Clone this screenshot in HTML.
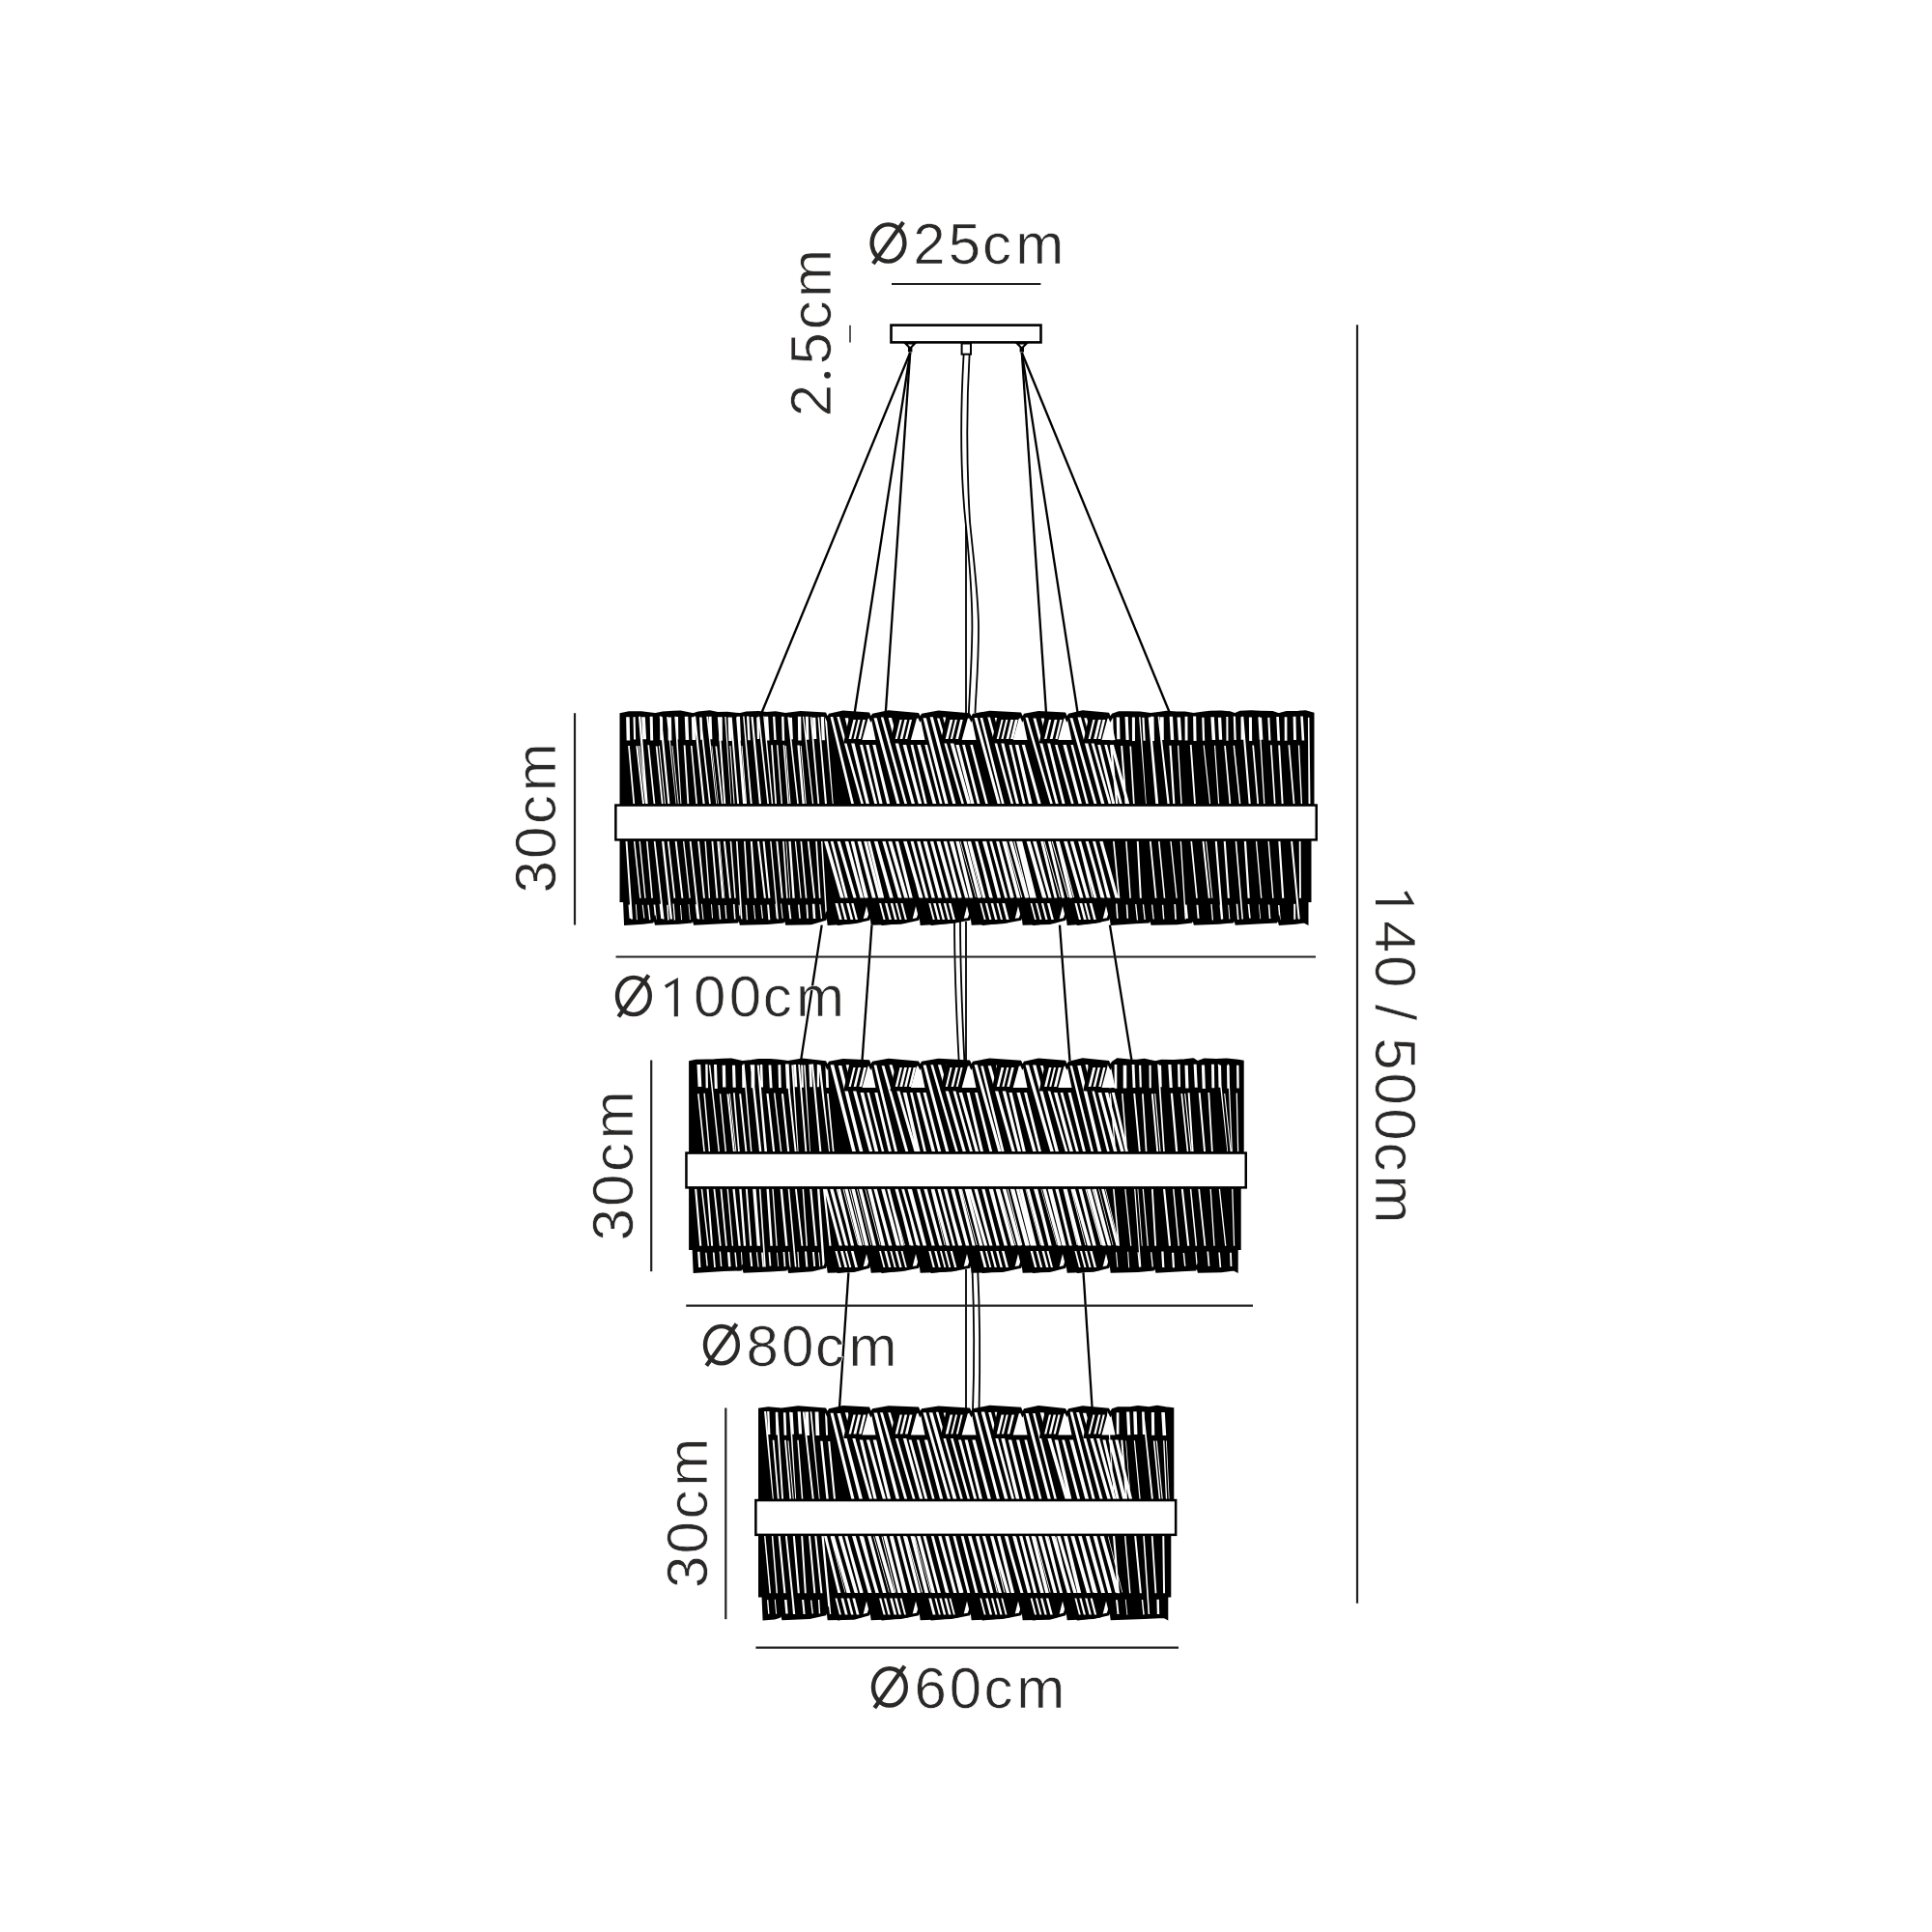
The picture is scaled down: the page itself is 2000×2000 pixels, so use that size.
<!DOCTYPE html>
<html><head><meta charset="utf-8"><style>
html,body{margin:0;padding:0;background:#fff;width:2000px;height:2000px;overflow:hidden}
svg{display:block}
text{font-family:"Liberation Sans",sans-serif;font-size:60px;fill:#2b2928;stroke:#fff;stroke-width:0.7px}
</style></head><body>
<svg width="2000" height="2000" viewBox="0 0 2000 2000">
<rect x="922.5" y="336.6" width="155" height="17.8" fill="#fff" stroke="#000" stroke-width="2.6"/>
<path d="M937.2 355.5 L947.2 355.5 L942.2 360.5 Z" fill="#fff" stroke="#000" stroke-width="2"/>
<rect x="940" y="359.5" width="4.4" height="5" fill="#000"/>
<path d="M1052.8 355.5 L1062.8 355.5 L1057.8 360.5 Z" fill="#fff" stroke="#000" stroke-width="2"/>
<rect x="1055.6" y="359.5" width="4.4" height="5" fill="#000"/>
<rect x="995.6" y="355.5" width="9.4" height="11.2" fill="#fff" stroke="#000" stroke-width="2"/>
<line x1="942.2" y1="365" x2="788.5" y2="737.8" stroke="#000" stroke-width="2.3"/>
<line x1="942.2" y1="365" x2="884.7" y2="737.8" stroke="#000" stroke-width="2.3"/>
<line x1="942.2" y1="365" x2="916.8" y2="737.8" stroke="#000" stroke-width="2.3"/>
<line x1="1057.8" y1="365" x2="1083" y2="737.8" stroke="#000" stroke-width="2.3"/>
<line x1="1057.8" y1="365" x2="1115.6" y2="737.8" stroke="#000" stroke-width="2.3"/>
<line x1="1057.8" y1="365" x2="1210.8" y2="737.8" stroke="#000" stroke-width="2.3"/>
<line x1="850.7" y1="957.6" x2="829" y2="1098.4" stroke="#000" stroke-width="2.3"/>
<line x1="902.5" y1="957.6" x2="892.5" y2="1098.4" stroke="#000" stroke-width="2.3"/>
<line x1="1097" y1="957.6" x2="1107.5" y2="1098.4" stroke="#000" stroke-width="2.3"/>
<line x1="1148.9" y1="957.6" x2="1171.6" y2="1098.4" stroke="#000" stroke-width="2.3"/>
<line x1="878.4" y1="1317.4" x2="869" y2="1457.3" stroke="#000" stroke-width="2.3"/>
<line x1="1121.5" y1="1317.4" x2="1130.6" y2="1457.3" stroke="#000" stroke-width="2.3"/>
<path d="M997.6 367 C994 430 994.5 495 1000 545 C1004.5 590 1006.5 620 1006.4 650 C1006 690 1003.5 720 1002.8 740" fill="none" stroke="#000" stroke-width="1.8"/>
<path d="M1003.6 367 C1000.5 420 1000.5 480 1004 540 C1009 590 1013 620 1013 650 C1013 690 1010 720 1009.5 738" fill="none" stroke="#000" stroke-width="1.8"/>
<path d="M1000 545 V740" fill="none" stroke="#000" stroke-width="1.8"/>
<path d="M988 950 C988 1000 990 1050 992.8 1101" fill="none" stroke="#000" stroke-width="1.8"/>
<path d="M994 950 C994 1000 996 1050 998.5 1101" fill="none" stroke="#000" stroke-width="1.8"/>
<path d="M1000 950 V1101" fill="none" stroke="#000" stroke-width="1.8"/>
<path d="M1000 1310 V1461" fill="none" stroke="#000" stroke-width="1.8"/>
<path d="M1006.4 1310 C1008.5 1360 1008.5 1420 1007 1461" fill="none" stroke="#000" stroke-width="1.8"/>
<path d="M1012 1310 C1014.5 1360 1014.5 1420 1013.5 1461" fill="none" stroke="#000" stroke-width="1.8"/>
<path d="M643 739.5 L651.1 737.64 L663.84 737.87 L677.69 739.6 L686.06 737.99 L697.26 737.17 L704.4 737.08 L717.73 739.6 L722.99 737.9 L734.66 736.86 L742.8 738.54 L752.74 738.31 L765.53 739.6 L772.63 737.94 L785.19 737.55 L793.63 738.58 L802.82 737.77 L812.94 739.6 L828.69 737.39 L854 739.01 L856.5 744.5 L859 740 L872.75 737 L899 739 L901.5 744.5 L904 740 L919.85 736.79 L950 739.39 L952.5 744.5 L955 740 L971.55 737.12 L1003 739.76 L1005.5 744.5 L1008 740 L1024.55 737.27 L1056 739 L1058.5 744.5 L1061 740 L1075.1 737.48 L1102 738.95 L1104.5 744.5 L1107 740 L1120.75 736.81 L1147 739.11 L1149.5 744.5 L1152 740 L1158.3 737.84 L1167.58 737.67 L1180.23 737.95 L1191.21 739.6 L1199.2 738.47 L1207.68 737.34 L1218.02 738.05 L1226.69 737.99 L1235.52 739.6 L1244.36 738.34 L1252.56 737.24 L1264.42 736.88 L1273.04 737.83 L1278.41 739.6 L1283.96 737.26 L1295.28 736.82 L1304.4 737.16 L1317.22 737.42 L1323.58 739.6 L1331.8 737.51 L1344.07 737.24 L1351.36 736.85 L1359 739 L1359 834 L643 834 Z" fill="#000"/>
<path d="M643 869 L1356 869 L1356 932.5 L1353 932.5 L1353 955.5 L1350 954 L1341.43 955.2 L1325.08 956.3 L1323.58 950.5 L1321.08 954 L1306.01 954.73 L1279.91 956.3 L1278.41 950.5 L1275.91 954 L1261.75 955.26 L1237.02 956.3 L1235.52 950.5 L1233.02 954 L1218.29 955.78 L1192.71 956.3 L1191.21 950.5 L1188.71 954 L1175.03 954.85 L1151 956.3 L1149.5 944 L1147 951.5 L1132 954.53 L1106 956.3 L1104.5 944 L1102 951.5 L1086.6 955.47 L1060 956.3 L1058.5 944 L1056 951.5 L1037.8 954.82 L1007 956.3 L1005.5 944 L1003 951.5 L984.8 954.6 L954 956.3 L952.5 944 L950 951.5 L932.6 955.2 L903 956.3 L901.5 944 L899 951.5 L884 954.65 L858 956.3 L856.5 944 L854 951.5 L839.58 955.68 L814.44 956.3 L812.94 950.5 L810.44 954 L794.47 955.5 L767.03 956.3 L765.53 950.5 L763.03 954 L746.91 954.77 L719.23 956.3 L717.73 950.5 L715.23 954 L702.22 955.34 L679.19 956.3 L677.69 950.5 L675.19 954 L665.52 955.3 L647.5 956.3 L646.5 932.5 L643 932.5 Z" fill="#000"/>
<path d="M650.09 771.95 L651.83 771.95 L657.2 832.3 L655.46 832.3 Z M658.3 772.18 L660.32 772.18 L667.1 832.3 L665.08 832.3 Z M661.15 772 L662.3 772 L669.09 832.3 L667.94 832.3 Z M660.93 741.66 L663.32 741.66 L670.73 832.3 L668.34 832.3 Z M670.39 771.16 L672.1 771.16 L678.31 832.3 L676.6 832.3 Z M678.71 772.48 L680.51 772.48 L686.65 832.3 L684.85 832.3 Z M681.85 772 L682.88 772 L689.07 832.3 L688.04 832.3 Z M682.7 741.56 L684.88 741.56 L693.48 832.3 L691.3 832.3 Z M690.1 742.05 L691.43 742.05 L700.33 832.3 L699.66 832.3 Z M695.45 772 L696.38 772 L702.76 832.3 L701.84 832.3 Z M698.31 741.84 L700.23 741.84 L705.42 832.3 L704.46 832.3 Z M707.65 771.62 L709.49 771.62 L713.31 832.3 L711.48 832.3 Z M714.91 771.88 L716.52 771.88 L722.02 832.3 L720.4 832.3 Z M718.11 741.6 L720.22 741.6 L729.7 832.3 L727.59 832.3 Z M724.13 742.6 L725.88 742.6 L735.86 832.3 L734.11 832.3 Z M731.29 741.75 L732.92 741.75 L742.15 832.3 L741.33 832.3 Z M736.52 772 L737.23 772 L743.92 832.3 L743.2 832.3 Z M740.42 772.44 L742.13 772.44 L748.57 832.3 L746.86 832.3 Z M742.82 742.35 L744.73 742.35 L751.28 832.3 L749.36 832.3 Z M750.24 741.88 L751.63 741.88 L757.22 832.3 L756.53 832.3 Z M755.3 772 L756.4 772 L760.6 832.3 L759.5 832.3 Z M755.83 742.55 L757.74 742.55 L765.11 832.3 L763.2 832.3 Z M762.08 742.55 L764.5 742.55 L772.15 832.3 L769.01 832.3 Z M767.54 772 L768.48 772 L773.13 832.3 L772.19 832.3 Z M769.09 741.59 L770.54 741.59 L778.69 832.3 L776.81 832.3 Z M777.48 742.06 L779.65 742.06 L788.01 832.3 L785.84 832.3 Z M784.57 741.72 L786.29 741.72 L796.06 832.3 L794.35 832.3 Z M790.19 741.55 L791.65 741.55 L800.26 832.3 L798.8 832.3 Z M798.1 771.16 L799.83 771.16 L804.09 832.3 L802.35 832.3 Z M803.9 771.37 L805.35 771.37 L810.03 832.3 L808.58 832.3 Z M810.6 771.36 L812.12 771.36 L816.88 832.3 L815.35 832.3 Z M812.79 772 L813.84 772 L818.54 832.3 L817.49 832.3 Z M815.31 742.24 L816.93 742.24 L826.85 832.3 L825.23 832.3 Z M825.34 771.44 L827.78 771.44 L832.97 832.3 L830.53 832.3 Z M828.61 772 L829.65 772 L834.79 832.3 L833.75 832.3 Z M830.95 741.83 L832.27 741.83 L842.26 832.3 L840.93 832.3 Z M838.69 742.19 L840.44 742.19 L848.26 832.3 L846.51 832.3 Z M846.56 742.53 L848.12 742.53 L856.01 832.3 L853.98 832.3 Z M853.71 741.99 L855.67 741.99 L862.72 832.3 L861.74 832.3 Z M648.12 742.27 L651.67 742.27 L652.19 766.6 L648.64 766.6 Z M655.47 742.3 L657.59 742.3 L658.16 765.62 L656.04 765.62 Z M664.12 742.15 L667.84 742.15 L669.08 765.22 L665.36 765.22 Z M672.67 741.82 L675.66 741.82 L676.2 766.58 L673.21 766.58 Z M682.99 742.16 L686.01 742.16 L686.29 766.37 L683.27 766.37 Z M691.23 742.61 L694.92 742.61 L695.4 766.41 L691.7 766.41 Z M699.81 742.1 L702.03 742.1 L702.3 765.43 L700.07 765.43 Z M708.74 741.76 L712.27 741.76 L713.22 766 L709.69 766 Z M715.78 742.14 L719.31 742.14 L720.05 766.02 L716.52 766.02 Z M724.02 742.46 L726.67 742.46 L727.76 765.81 L725.11 765.81 Z M733.51 741.66 L736.6 741.66 L737.39 765.19 L734.3 765.19 Z M743.95 742.23 L747.66 742.23 L747.9 766.74 L744.19 766.74 Z M753.51 742.5 L756.78 742.5 L757.6 766.92 L754.33 766.92 Z M762.82 741.71 L765.96 741.71 L767.03 766.74 L763.89 766.74 Z M772.93 741.52 L775.44 741.52 L776.75 766.32 L774.24 766.32 Z M783.15 742.48 L785.45 742.48 L786.21 765.09 L783.92 765.09 Z M791.86 741.64 L795.17 741.64 L796.54 766.57 L793.23 766.57 Z M800.01 741.75 L802.35 741.75 L803.68 766.09 L801.35 766.09 Z M809.02 741.87 L811.52 741.87 L812.24 766.8 L809.74 766.8 Z M816.87 742.69 L819.93 742.69 L820.93 765.14 L817.87 765.14 Z M825.86 741.7 L829.24 741.7 L829.59 766.49 L826.2 766.49 Z M833.85 741.66 L836.74 741.66 L837.49 765.67 L834.59 765.67 Z M840.91 742.73 L844.22 742.73 L845.37 765.12 L842.06 765.12 Z M849.66 742.07 L852.89 742.07 L853.99 766.28 L850.76 766.28 Z M1148.92 771.14 L1151.16 771.14 L1157.36 832.3 L1155.12 832.3 Z M1160.16 771.97 L1162.15 771.97 L1166.57 832.3 L1164.57 832.3 Z M1169.4 772.42 L1171.09 772.42 L1174.69 832.3 L1172.99 832.3 Z M1179.1 742.16 L1180.53 742.16 L1186.76 832.3 L1186.04 832.3 Z M1188.69 742.49 L1190.96 742.49 L1199.25 832.3 L1196.31 832.3 Z M1198.6 741.81 L1200.32 741.81 L1210.73 832.3 L1208.49 832.3 Z M1210.37 771.72 L1212.52 771.72 L1216.38 832.3 L1214.23 832.3 Z M1218.92 771.81 L1220.27 771.81 L1223.7 832.3 L1222.35 832.3 Z M1231.8 771.04 L1233.64 771.04 L1237.93 832.3 L1236.09 832.3 Z M1245.6 771.44 L1246.8 771.44 L1253.19 832.3 L1251.99 832.3 Z M1256.96 771.75 L1258.16 771.75 L1262.27 832.3 L1261.07 832.3 Z M1267.2 771.93 L1268.9 771.93 L1274.24 832.3 L1272.54 832.3 Z M1276.6 771.67 L1278.09 771.67 L1284.38 832.3 L1282.9 832.3 Z M1285.22 741.8 L1287.31 741.8 L1294.72 832.3 L1292.64 832.3 Z M1296.28 771.6 L1298.04 771.6 L1303.12 832.3 L1301.36 832.3 Z M1302.82 741.89 L1304.12 741.89 L1309.45 832.3 L1308.16 832.3 Z M1314.92 771.14 L1316.6 771.14 L1320.55 832.3 L1318.87 832.3 Z M1323.19 771.61 L1325.13 771.61 L1328.62 832.3 L1326.67 832.3 Z M1333.49 771.32 L1335.22 771.32 L1340.43 832.3 L1338.7 832.3 Z M1343.84 771.62 L1345.23 771.62 L1348.11 832.3 L1346.72 832.3 Z M1353.91 742.65 L1355.42 742.65 L1356.51 832.3 L1354.54 832.3 Z M1148.58 742.76 L1152.2 742.76 L1152.86 766.16 L1149.24 766.16 Z M1155.67 742.39 L1159.01 742.39 L1159.54 765.28 L1156.2 765.28 Z M1164.55 742.05 L1167.73 742.05 L1168.7 765.92 L1165.52 765.92 Z M1171.87 742.4 L1174.91 742.4 L1175.01 766.9 L1171.98 766.9 Z M1182.33 742.75 L1184.52 742.75 L1185.71 766.86 L1183.52 766.86 Z M1190.98 741.65 L1194.49 741.65 L1194.98 766.9 L1191.48 766.9 Z M1200.99 742.28 L1204.66 742.28 L1204.82 766.11 L1201.15 766.11 Z M1210.6 741.74 L1214.02 741.74 L1215.3 766.06 L1211.88 766.06 Z M1218.52 742.58 L1221.97 742.58 L1223.38 766.2 L1219.94 766.2 Z M1226.55 741.8 L1229.41 741.8 L1229.52 766.56 L1226.66 766.56 Z M1235.1 741.54 L1238.16 741.54 L1238.59 766.91 L1235.53 766.91 Z M1244.2 742.68 L1246.5 742.68 L1247.2 766.67 L1244.9 766.67 Z M1253.34 742.25 L1256.88 742.25 L1258.22 765.94 L1254.68 765.94 Z M1260.87 742.63 L1264.2 742.63 L1265.25 765.66 L1261.92 765.66 Z M1269.35 741.89 L1271.37 741.89 L1271.5 766.71 L1269.48 766.71 Z M1276.74 741.55 L1278.98 741.55 L1279.74 766.04 L1277.5 766.04 Z M1284.51 742.16 L1287.02 742.16 L1287.17 765.69 L1284.65 765.69 Z M1292.88 742.58 L1295.92 742.58 L1296.17 766.97 L1293.13 766.97 Z M1302.39 742.67 L1306.08 742.67 L1307.41 765.83 L1303.73 765.83 Z M1312.26 742.66 L1314.39 742.66 L1315.52 766.55 L1313.38 766.55 Z M1321.22 742.08 L1323.9 742.08 L1325.08 766.79 L1322.4 766.79 Z M1329.68 742.33 L1332.39 742.33 L1332.47 766.73 L1329.76 766.73 Z M1338.58 741.76 L1341.46 741.76 L1341.98 765.99 L1339.1 765.99 Z M1346.26 741.55 L1348.89 741.55 L1350.28 766.43 L1347.65 766.43 Z M859.5 742.09 L862.27 742.09 L884.04 832.3 L881.28 832.3 Z M866.3 742.08 L868.92 742.08 L894.03 832.3 L891.41 832.3 Z M874.71 743.2 L878.15 743.2 L900.03 832.3 L896.58 832.3 Z M890.04 771 L892.99 771 L908.2 832.3 L905.25 832.3 Z M896.29 771 L899.53 771 L913.67 832.3 L910.43 832.3 Z M903.24 771 L906.42 771 L921.31 832.3 L918.13 832.3 Z M904.5 743.36 L907.69 743.36 L931.57 832.3 L928.38 832.3 Z M911.78 742.62 L914.47 742.62 L939.1 832.3 L936.4 832.3 Z M919.59 742.95 L922.96 742.95 L947.1 832.3 L943.73 832.3 Z M934.61 771 L938.14 771 L954.36 832.3 L950.83 832.3 Z M942.55 771 L945.3 771 L959.75 832.3 L957 832.3 Z M949.31 771 L952.96 771 L969.36 832.3 L965.71 832.3 Z M957.23 771 L959.92 771 L975.59 832.3 L972.89 832.3 Z M955.5 743.25 L958.87 743.25 L981.63 832.3 L978.26 832.3 Z M962.65 742.29 L965.84 742.29 L989.46 832.3 L986.27 832.3 Z M969.93 743.44 L972.45 743.44 L998 832.3 L995.47 832.3 Z M976.09 742.5 L979.76 742.5 L1004.93 832.3 L1001.26 832.3 Z M989.43 771 L992.77 771 L1008.63 832.3 L1005.29 832.3 Z M996.08 771 L998.88 771 L1014.57 832.3 L1011.76 832.3 Z M1004.31 771 L1006.89 771 L1022.83 832.3 L1020.25 832.3 Z M1008.5 743.09 L1011.63 743.09 L1035.75 832.3 L1032.62 832.3 Z M1014.54 742.88 L1017.2 742.88 L1039.69 832.3 L1037.03 832.3 Z M1022.31 742.44 L1024.89 742.44 L1049.19 832.3 L1046.6 832.3 Z M1029.72 742.89 L1032.79 742.89 L1055 832.3 L1051.94 832.3 Z M1044.56 771 L1047.31 771 L1061.71 832.3 L1058.96 832.3 Z M1050.78 771 L1054.35 771 L1068.66 832.3 L1065.1 832.3 Z M1057.74 771 L1060.87 771 L1077.72 832.3 L1074.58 832.3 Z M1061.5 742.86 L1064.1 742.86 L1089.87 832.3 L1087.27 832.3 Z M1069.46 743.47 L1072.37 743.47 L1095.79 832.3 L1092.88 832.3 Z M1077.75 743.48 L1080.75 743.48 L1102.59 832.3 L1099.59 832.3 Z M1092.03 771 L1094.68 771 L1111.71 832.3 L1109.07 832.3 Z M1100.38 771 L1103.82 771 L1120.05 832.3 L1116.61 832.3 Z M1108.38 771 L1110.91 771 L1126.95 832.3 L1124.42 832.3 Z M1107.5 743.2 L1110.4 743.2 L1135.46 832.3 L1132.56 832.3 Z M1115.53 742.43 L1118.95 742.43 L1143.48 832.3 L1140.06 832.3 Z M1122.23 743.34 L1125.05 743.34 L1150.49 832.3 L1147.67 832.3 Z M1136.15 771 L1139.18 771 L1154.35 832.3 L1151.32 832.3 Z M1143.22 771 L1146.01 771 L1161.75 832.3 L1158.95 832.3 Z M1149.65 771 L1152.89 771 L1169.25 832.3 L1166.02 832.3 Z M647.5 870.5 L649.43 870.5 L654.99 951.5 L653.06 951.5 Z M655.85 870.5 L657.38 870.5 L663.67 929.8 L662.15 929.8 Z M661.46 870.5 L662.87 870.5 L668.65 929.8 L667.24 929.8 Z M668.97 870.5 L670.57 870.5 L675.92 929.8 L674.32 929.8 Z M676.68 870.5 L678.47 870.5 L687.59 951.5 L685.8 951.5 Z M684.99 870.5 L687.33 870.5 L696.09 951.5 L693.74 951.5 Z M690.78 870.5 L692.59 870.5 L699.27 929.8 L697.46 929.8 Z M698.66 870.5 L700.59 870.5 L707.36 929.8 L705.43 929.8 Z M706.92 870.5 L708.32 870.5 L714.8 929.8 L713.4 929.8 Z M713.63 870.5 L715.5 870.5 L724.31 951.5 L722.44 951.5 Z M722.07 870.5 L723.94 870.5 L729.89 929.8 L728.02 929.8 Z M729.43 870.5 L730.86 870.5 L735.11 929.8 L733.68 929.8 Z M736.44 870.5 L738.28 870.5 L743.36 929.8 L741.52 929.8 Z M742.24 870.5 L744.2 870.5 L749.31 929.8 L747.35 929.8 Z M744.46 870.5 L745.25 870.5 L750.35 929.8 L749.57 929.8 Z M748.88 870.5 L750.88 870.5 L756.96 929.8 L754.96 929.8 Z M755.63 870.5 L757.21 870.5 L761.8 929.8 L760.23 929.8 Z M761.92 870.5 L763.57 870.5 L768.51 951.5 L766.87 951.5 Z M769.98 870.5 L771.62 870.5 L775.22 929.8 L773.59 929.8 Z M776.75 870.5 L778.82 870.5 L782.98 929.8 L780.9 929.8 Z M783.92 870.5 L785.97 870.5 L792.92 929.8 L790.86 929.8 Z M789.47 870.5 L791.59 870.5 L797.45 929.8 L795.33 929.8 Z M797.07 870.5 L798.52 870.5 L805.92 951.5 L804.47 951.5 Z M803.32 870.5 L805.24 870.5 L810.75 929.8 L808.84 929.8 Z M810.1 870.5 L811.7 870.5 L815.71 929.8 L814.11 929.8 Z M813.35 870.5 L814.16 870.5 L818.17 929.8 L817.36 929.8 Z M816.33 870.5 L818.67 870.5 L822.76 929.8 L820.41 929.8 Z M822.75 870.5 L824.06 870.5 L829.77 929.8 L828.47 929.8 Z M828.42 870.5 L830.13 870.5 L835.45 929.8 L833.74 929.8 Z M835.7 870.5 L837.53 870.5 L844.03 929.8 L842.19 929.8 Z M844.2 870.5 L845.87 870.5 L849.55 929.8 L847.87 929.8 Z M849.96 870.5 L851.45 870.5 L856.35 951.5 L854.86 951.5 Z M650.5 936.55 L652.52 936.55 L653.58 950.69 L651.56 950.69 Z M657.83 936.27 L658.83 936.27 L659.9 952.31 L658.9 952.31 Z M664.7 936.64 L665.81 936.64 L667.46 950.58 L666.35 950.58 Z M670.31 936.63 L671.74 936.63 L673.56 952.19 L672.13 952.19 Z M676.56 936.39 L678.29 936.39 L679.89 951.9 L678.16 951.9 Z M682.54 935.79 L684.48 935.79 L686.18 951.05 L684.24 951.05 Z M690.11 936.68 L691.61 936.68 L692.62 952.45 L691.12 952.45 Z M696.44 935.56 L697.79 935.56 L699.13 952.49 L697.78 952.49 Z M703.98 936.89 L704.93 936.89 L706.07 952.3 L705.12 952.3 Z M712.46 935.96 L713.36 935.96 L714.89 952.34 L714 952.34 Z M719.65 936.28 L721.76 936.28 L723.52 951.04 L721.42 951.04 Z M725.84 935.85 L726.91 935.85 L728.52 951.87 L727.46 951.87 Z M736.02 936.2 L737 936.2 L738.01 950.54 L737.03 950.54 Z M743.45 936.93 L745.01 936.93 L746.39 951.75 L744.83 951.75 Z M750.19 936.92 L751.51 936.92 L752.54 951.07 L751.22 951.07 Z M758.88 936.06 L760.47 936.06 L761.64 951.56 L760.04 951.56 Z M764.54 936.81 L765.61 936.81 L766.69 952.21 L765.62 952.21 Z M771.75 936.87 L773.07 936.87 L774.1 952.15 L772.78 952.15 Z M779.79 936.99 L780.85 936.99 L782.29 951.54 L781.23 951.54 Z M787.31 936.72 L788.51 936.72 L790.07 950.85 L788.86 950.85 Z M794.08 936.47 L796.04 936.47 L797.35 952.34 L795.39 952.34 Z M802.4 935.65 L803.97 935.65 L805.24 950.61 L803.68 950.61 Z M808 935.56 L809.05 935.56 L810.72 950.77 L809.67 950.77 Z M815.75 936.65 L817.62 936.65 L819.35 951.31 L817.48 951.31 Z M825.96 936.49 L827.5 936.49 L828.86 950.8 L827.32 950.8 Z M834.36 936.62 L836.12 936.62 L836.99 950.86 L835.24 950.86 Z M840.79 935.68 L843.38 935.68 L844.39 950.88 L841.8 950.88 Z M848.2 936.32 L849.5 936.32 L851.17 951.54 L849.87 951.54 Z M1152 870.5 L1153.68 870.5 L1159.36 929.8 L1157.68 929.8 Z M1165.11 870.5 L1166.64 870.5 L1170.9 929.8 L1169.37 929.8 Z M1176.73 870.5 L1178.69 870.5 L1181.84 929.8 L1179.88 929.8 Z M1189.88 870.5 L1191.7 870.5 L1197.47 929.8 L1195.65 929.8 Z M1198.96 870.5 L1200.53 870.5 L1206.31 929.8 L1204.74 929.8 Z M1211.27 870.5 L1212.64 870.5 L1218.77 929.8 L1217.4 929.8 Z M1221.64 870.5 L1222.97 870.5 L1227.97 951.5 L1226.65 951.5 Z M1232.36 870.5 L1234.06 870.5 L1239.81 929.8 L1238.11 929.8 Z M1244.47 870.5 L1246.43 870.5 L1252.77 929.8 L1250.81 929.8 Z M1248.01 870.5 L1249.09 870.5 L1255.44 929.8 L1254.36 929.8 Z M1257.75 870.5 L1259.82 870.5 L1266.28 951.5 L1264.21 951.5 Z M1266.67 870.5 L1268.78 870.5 L1272.94 929.8 L1270.84 929.8 Z M1278.62 870.5 L1280.2 870.5 L1287.04 951.5 L1285.46 951.5 Z M1287.81 870.5 L1290.04 870.5 L1293.82 929.8 L1291.59 929.8 Z M1299.81 870.5 L1301.16 870.5 L1306.41 929.8 L1305.07 929.8 Z M1312.46 870.5 L1313.87 870.5 L1318.58 929.8 L1317.17 929.8 Z M1323.28 870.5 L1325.41 870.5 L1329.28 929.8 L1327.14 929.8 Z M1336.09 870.5 L1338.09 870.5 L1345.73 951.5 L1343.72 951.5 Z M1344.75 870.5 L1346.56 870.5 L1346.94 929.8 L1345.14 929.8 Z M1155 935.62 L1156.58 935.62 L1157.61 950.85 L1156.03 950.85 Z M1165.65 936.55 L1167.25 936.55 L1168.17 950.68 L1166.57 950.68 Z M1175.08 936.12 L1176.38 936.12 L1178.15 952.4 L1176.85 952.4 Z M1182.79 936.25 L1184.13 936.25 L1185.84 952.04 L1184.5 952.04 Z M1191.97 936.46 L1193.26 936.46 L1194.84 951.56 L1193.55 951.56 Z M1202.86 936.87 L1204.3 936.87 L1205.42 951.39 L1203.99 951.39 Z M1215.39 936.02 L1217.07 936.02 L1217.92 951.78 L1216.24 951.78 Z M1226.43 936.43 L1228.6 936.43 L1229.98 950.81 L1227.82 950.81 Z M1238.49 936.71 L1240.34 936.71 L1241.54 950.74 L1239.69 950.74 Z M1253.35 935.98 L1254.66 935.98 L1256.06 952.38 L1254.74 952.38 Z M1262.5 936.81 L1263.54 936.81 L1265 951.76 L1263.96 951.76 Z M1271.17 936.66 L1272.18 936.66 L1273.34 951.62 L1272.33 951.62 Z M1279.65 935.67 L1281.26 935.67 L1282.6 952.03 L1280.99 952.03 Z M1291.65 936.05 L1293.28 936.05 L1294.74 950.59 L1293.11 950.59 Z M1302.83 936.37 L1303.64 936.37 L1305.17 951.36 L1304.36 951.36 Z M1312.67 936.4 L1314.27 936.4 L1315.44 950.92 L1313.83 950.92 Z M1323.03 936.95 L1324.52 936.95 L1325.74 952.29 L1324.25 952.29 Z M1339.17 935.65 L1341.14 935.65 L1341.22 951.79 L1339.25 951.79 Z M853 870.5 L856.77 870.5 L873.74 929.5 L869.97 929.5 Z M859.53 870.5 L862.52 870.5 L877.76 929.5 L874.77 929.5 Z M866.4 870.5 L869.3 870.5 L886.39 929.5 L883.5 929.5 Z M874.53 870.5 L878.12 870.5 L894.04 929.5 L890.45 929.5 Z M880.58 870.5 L884.21 870.5 L898.43 929.5 L894.8 929.5 Z M887.45 870.5 L891.15 870.5 L906.6 929.5 L902.91 929.5 Z M894.07 870.5 L897.32 870.5 L912.4 929.5 L909.15 929.5 Z M861.7 871 L862.52 871 L876.97 929 L876.15 929 Z M868.82 871 L869.84 871 L886.54 929 L885.52 929 Z M875.48 871 L876.21 871 L891.56 929 L890.83 929 Z M882.76 871 L883.78 871 L898.73 929 L897.71 929 Z M890.49 871 L891.34 871 L906.56 929 L905.72 929 Z M898 870.5 L900.84 870.5 L915.23 929.5 L912.39 929.5 Z M904.68 870.5 L908.42 870.5 L924.82 929.5 L921.09 929.5 Z M913.17 870.5 L916.6 870.5 L933.67 929.5 L930.24 929.5 Z M919.26 870.5 L923.18 870.5 L940.06 929.5 L936.14 929.5 Z M926.65 870.5 L930.04 870.5 L944.82 929.5 L941.43 929.5 Z M934.95 870.5 L938.61 870.5 L955.57 929.5 L951.9 929.5 Z M942.4 870.5 L945.61 870.5 L961.18 929.5 L957.96 929.5 Z M906.46 871 L907.33 871 L921.81 929 L920.94 929 Z M913.57 871 L914.54 871 L930.59 929 L929.61 929 Z M921.13 871 L922.2 871 L937.05 929 L935.98 929 Z M928.88 871 L929.86 871 L943.81 929 L942.83 929 Z M936.45 871 L937.34 871 L952.22 929 L951.33 929 Z M944.13 871 L945.01 871 L960.07 929 L959.2 929 Z M949 870.5 L952.44 870.5 L967.94 929.5 L964.5 929.5 Z M955.56 870.5 L959.43 870.5 L975.03 929.5 L971.16 929.5 Z M962.69 870.5 L965.82 870.5 L981.91 929.5 L978.79 929.5 Z M969.34 870.5 L973.25 870.5 L989.61 929.5 L985.7 929.5 Z M976.5 870.5 L980.04 870.5 L995.38 929.5 L991.84 929.5 Z M982.73 870.5 L986.19 870.5 L1002.56 929.5 L999.1 929.5 Z M989.26 870.5 L992.87 870.5 L1007.16 929.5 L1003.55 929.5 Z M996.98 870.5 L1000.44 870.5 L1015.46 929.5 L1012 929.5 Z M958.05 871 L958.9 871 L974.27 929 L973.42 929 Z M965.39 871 L966.27 871 L981.59 929 L980.71 929 Z M972.07 871 L972.91 871 L987.48 929 L986.64 929 Z M978.57 871 L979.38 871 L995.68 929 L994.86 929 Z M986.05 871 L987.18 871 L1001.49 929 L1000.37 929 Z M993.68 871 L994.51 871 L1010.64 929 L1009.81 929 Z M1001.51 871 L1002.37 871 L1016.4 929 L1015.54 929 Z M1002 870.5 L1005.09 870.5 L1020.43 929.5 L1017.34 929.5 Z M1009.21 870.5 L1012.18 870.5 L1027.89 929.5 L1024.92 929.5 Z M1017.39 870.5 L1021.07 870.5 L1036.21 929.5 L1032.54 929.5 Z M1024.1 870.5 L1026.97 870.5 L1043.04 929.5 L1040.17 929.5 Z M1030.98 870.5 L1034.15 870.5 L1049.01 929.5 L1045.85 929.5 Z M1037.16 870.5 L1040.79 870.5 L1056.3 929.5 L1052.67 929.5 Z M1044.37 870.5 L1047.96 870.5 L1064.65 929.5 L1061.06 929.5 Z M1051.98 870.5 L1055.56 870.5 L1069.83 929.5 L1066.25 929.5 Z M1010.05 871 L1011.08 871 L1025.1 929 L1024.07 929 Z M1016.88 871 L1017.73 871 L1034.15 929 L1033.3 929 Z M1025.21 871 L1026 871 L1041.17 929 L1040.38 929 Z M1033.35 871 L1034.18 871 L1049.85 929 L1049.02 929 Z M1040.98 871 L1042.17 871 L1058.37 929 L1057.18 929 Z M1049.23 871 L1050.42 871 L1065.23 929 L1064.03 929 Z M1055 870.5 L1058.09 870.5 L1072.85 929.5 L1069.76 929.5 Z M1062.49 870.5 L1066.47 870.5 L1083.4 929.5 L1079.42 929.5 Z M1068.96 870.5 L1072.17 870.5 L1088.66 929.5 L1085.44 929.5 Z M1077.08 870.5 L1079.98 870.5 L1094.41 929.5 L1091.51 929.5 Z M1084.72 870.5 L1087.71 870.5 L1102.03 929.5 L1099.04 929.5 Z M1092.8 870.5 L1096.13 870.5 L1110.39 929.5 L1107.06 929.5 Z M1062.75 871 L1063.59 871 L1079.81 929 L1078.97 929 Z M1071.74 871 L1072.79 871 L1088.2 929 L1087.16 929 Z M1080.48 871 L1081.53 871 L1097.79 929 L1096.73 929 Z M1088.64 871 L1089.82 871 L1106.41 929 L1105.23 929 Z M1095.67 871 L1096.82 871 L1112.13 929 L1110.98 929 Z M1101 870.5 L1104.64 870.5 L1121.56 929.5 L1117.92 929.5 Z M1107.68 870.5 L1111.29 870.5 L1127.92 929.5 L1124.31 929.5 Z M1115.91 870.5 L1119.07 870.5 L1135.53 929.5 L1132.38 929.5 Z M1123.56 870.5 L1126.69 870.5 L1143.54 929.5 L1140.41 929.5 Z M1130.86 870.5 L1133.9 870.5 L1149.69 929.5 L1146.64 929.5 Z M1138.09 870.5 L1141.56 870.5 L1157.9 929.5 L1154.44 929.5 Z M1109.75 871 L1110.84 871 L1125.88 929 L1124.79 929 Z M1116.37 871 L1117.55 871 L1131.54 929 L1130.35 929 Z M1124.9 871 L1126.07 871 L1140.48 929 L1139.3 929 Z M1131.9 871 L1132.71 871 L1146.64 929 L1145.83 929 Z M1140.59 871 L1141.79 871 L1156.55 929 L1155.35 929 Z" fill="#fff"/>
<path d="" fill="none" stroke="#000" stroke-width="2.6"/>
<path d="M880.4 741 L897.5 743 L891.5 768.5 L874.4 768.5 Z M928.52 741 L947.9 743 L941.9 768.5 L922.52 768.5 Z M980.56 741 L1000.7 743 L994.7 768.5 L974.56 768.5 Z M1033.56 741 L1053.7 743 L1047.7 768.5 L1027.56 768.5 Z M1082.92 741 L1100.4 743 L1094.4 768.5 L1076.92 768.5 Z M1128.4 741 L1145.5 743 L1139.5 768.5 L1122.4 768.5 Z M861.5 931 L884.9 931 L890.9 954 L867.5 957 Z M907.1 931 L933.62 931 L939.62 954 L913.1 957 Z M958.3 931 L985.86 931 L991.86 954 L964.3 957 Z M1011.3 931 L1038.86 931 L1044.86 954 L1017.3 957 Z M1063.6 931 L1087.52 931 L1093.52 954 L1069.6 957 Z M1109.5 931 L1132.9 931 L1138.9 954 L1115.5 957 Z" fill="#000" stroke="#000" stroke-width="2" stroke-linejoin="round"/>
<path d="M883.4 745 L885.95 745 L881.15 765 L878.6 765 Z M888.31 745 L890.5 745 L885.7 765 L883.51 765 Z M893.27 745 L895.82 745 L891.02 765 L888.47 765 Z M931.52 745 L933.78 745 L928.98 765 L926.72 765 Z M936.42 745 L939.09 745 L934.29 765 L931.62 765 Z M941.66 745 L944.02 745 L939.22 765 L936.86 765 Z M983.56 745 L986.39 745 L981.59 765 L978.76 765 Z M988.68 745 L990.86 745 L986.06 765 L983.88 765 Z M994.05 745 L996.79 745 L991.99 765 L989.25 765 Z M1036.56 745 L1038.59 745 L1033.79 765 L1031.76 765 Z M1041.22 745 L1043.36 745 L1038.56 765 L1036.42 765 Z M1046.25 745 L1049.17 745 L1044.37 765 L1041.45 765 Z M1050.82 745 L1053.76 745 L1048.96 765 L1046.02 765 Z M1085.92 745 L1088.22 745 L1083.42 765 L1081.12 765 Z M1091.6 745 L1094.43 745 L1089.63 765 L1086.8 765 Z M1097.24 745 L1099.58 745 L1094.78 765 L1092.44 765 Z M1131.4 745 L1133.58 745 L1128.78 765 L1126.6 765 Z M1136.97 745 L1139.92 745 L1135.12 765 L1132.17 765 Z M1141.5 745 L1144.23 745 L1139.43 765 L1136.7 765 Z M864.5 935 L867.27 935 L871.69 952 L868.92 952 Z M869.96 935 L872.55 935 L876.97 952 L874.38 952 Z M876.08 935 L878.81 935 L883.23 952 L880.5 952 Z M881.21 935 L883.58 935 L888 952 L885.63 952 Z M910.1 935 L912.14 935 L916.56 952 L914.52 952 Z M916 935 L918.46 935 L922.88 952 L920.42 952 Z M921.72 935 L924.24 935 L928.66 952 L926.14 952 Z M926.88 935 L928.91 935 L933.33 952 L931.3 952 Z M932.35 935 L934.47 935 L938.89 952 L936.77 952 Z M961.3 935 L963.32 935 L967.74 952 L965.72 952 Z M966.15 935 L968.69 935 L973.11 952 L970.57 952 Z M971.22 935 L973.7 935 L978.12 952 L975.64 952 Z M976.72 935 L979.17 935 L983.59 952 L981.14 952 Z M981.95 935 L984.49 935 L988.91 952 L986.37 952 Z M1014.3 935 L1016.18 935 L1020.6 952 L1018.72 952 Z M1019.86 935 L1022.03 935 L1026.45 952 L1024.28 952 Z M1025.67 935 L1028.2 935 L1032.62 952 L1030.09 952 Z M1031.51 935 L1033.58 935 L1038 952 L1035.93 952 Z M1037.38 935 L1040.18 935 L1044.6 952 L1041.8 952 Z M1066.6 935 L1068.4 935 L1072.82 952 L1071.02 952 Z M1072.07 935 L1074.04 935 L1078.46 952 L1076.49 952 Z M1077.92 935 L1080.2 935 L1084.62 952 L1082.34 952 Z M1083.95 935 L1086.49 935 L1090.91 952 L1088.37 952 Z M1112.5 935 L1114.67 935 L1119.09 952 L1116.92 952 Z M1117.46 935 L1120.26 935 L1124.68 952 L1121.88 952 Z M1122.35 935 L1124.57 935 L1128.99 952 L1126.77 952 Z M1127.72 935 L1130.33 935 L1134.75 952 L1132.14 952 Z" fill="#fff"/>
<path d="M898.5 744 L901.5 742 L906.5 766 L892.5 766 Z M948.9 744 L952.5 742 L957.5 766 L942.9 766 Z M1001.7 744 L1005.5 742 L1010.5 766 L995.7 766 Z M1054.7 744 L1058.5 742 L1063.5 766 L1048.7 766 Z M1101.4 744 L1104.5 742 L1109.5 766 L1095.4 766 Z M1146.5 744 L1149.5 742 L1154.5 766 L1140.5 766 Z M893 954 L901 954 L897 938 Z M944 954 L952 954 L948 938 Z M997 954 L1005 954 L1001 938 Z M1050 954 L1058 954 L1054 938 Z M1096 954 L1104 954 L1100 938 Z M1141 954 L1149 954 L1145 938 Z" fill="#fff"/>
<path d="M643 739.5 L651.1 737.64 L663.84 737.87 L677.69 739.6 L686.06 737.99 L697.26 737.17 L704.4 737.08 L717.73 739.6 L722.99 737.9 L734.66 736.86 L742.8 738.54 L752.74 738.31 L765.53 739.6 L772.63 737.94 L785.19 737.55 L793.63 738.58 L802.82 737.77 L812.94 739.6 L828.69 737.39 L854 739.01 L856.5 744.5 L859 740 L872.75 737 L899 739 L901.5 744.5 L904 740 L919.85 736.79 L950 739.39 L952.5 744.5 L955 740 L971.55 737.12 L1003 739.76 L1005.5 744.5 L1008 740 L1024.55 737.27 L1056 739 L1058.5 744.5 L1061 740 L1075.1 737.48 L1102 738.95 L1104.5 744.5 L1107 740 L1120.75 736.81 L1147 739.11 L1149.5 744.5 L1152 740 L1158.3 737.84 L1167.58 737.67 L1180.23 737.95 L1191.21 739.6 L1199.2 738.47 L1207.68 737.34 L1218.02 738.05 L1226.69 737.99 L1235.52 739.6 L1244.36 738.34 L1252.56 737.24 L1264.42 736.88 L1273.04 737.83 L1278.41 739.6 L1283.96 737.26 L1295.28 736.82 L1304.4 737.16 L1317.22 737.42 L1323.58 739.6 L1331.8 737.51 L1344.07 737.24 L1351.36 736.85 L1359 739 L1359 834 L643 834 Z" fill="none" stroke="#000" stroke-width="3"/>
<path d="M643 869 L1356 869 L1356 932.5 L1353 932.5 L1353 955.5 L1350 954 L1341.43 955.2 L1325.08 956.3 L1323.58 950.5 L1321.08 954 L1306.01 954.73 L1279.91 956.3 L1278.41 950.5 L1275.91 954 L1261.75 955.26 L1237.02 956.3 L1235.52 950.5 L1233.02 954 L1218.29 955.78 L1192.71 956.3 L1191.21 950.5 L1188.71 954 L1175.03 954.85 L1151 956.3 L1149.5 944 L1147 951.5 L1132 954.53 L1106 956.3 L1104.5 944 L1102 951.5 L1086.6 955.47 L1060 956.3 L1058.5 944 L1056 951.5 L1037.8 954.82 L1007 956.3 L1005.5 944 L1003 951.5 L984.8 954.6 L954 956.3 L952.5 944 L950 951.5 L932.6 955.2 L903 956.3 L901.5 944 L899 951.5 L884 954.65 L858 956.3 L856.5 944 L854 951.5 L839.58 955.68 L814.44 956.3 L812.94 950.5 L810.44 954 L794.47 955.5 L767.03 956.3 L765.53 950.5 L763.03 954 L746.91 954.77 L719.23 956.3 L717.73 950.5 L715.23 954 L702.22 955.34 L679.19 956.3 L677.69 950.5 L675.19 954 L665.52 955.3 L647.5 956.3 L646.5 932.5 L643 932.5 Z" fill="none" stroke="#000" stroke-width="3"/>
<rect x="637.35" y="833.55" width="725.4" height="35.8" fill="#fff" stroke="#000" stroke-width="2.5"/>
<path d="M714.6 1099.5 L720.31 1098.2 L731.77 1097.98 L739.43 1097.76 L748.13 1097.17 L757.1 1096.91 L769.23 1099.6 L778.25 1098.59 L785.35 1097.61 L797.21 1097.46 L806.28 1098.15 L815.87 1099.6 L830.59 1096.94 L854 1099.7 L856.5 1104.5 L859 1100 L872.75 1097.39 L899 1098.81 L901.5 1104.5 L904 1100 L919.85 1097.32 L950 1099.85 L952.5 1104.5 L955 1100 L971.55 1097.14 L1003 1098.85 L1005.5 1104.5 L1008 1100 L1024.55 1097.08 L1056 1099.12 L1058.5 1104.5 L1061 1100 L1075.1 1096.93 L1102 1099.2 L1104.5 1104.5 L1107 1100 L1120.75 1096.81 L1147 1099.32 L1149.5 1104.5 L1152 1100 L1156.76 1096.91 L1169.43 1098.02 L1177.15 1098.32 L1184.53 1097.17 L1196.1 1099.6 L1202.38 1098.29 L1214.94 1098.56 L1226.37 1097.85 L1235.2 1096.86 L1239.61 1099.6 L1246.75 1096.96 L1258.99 1097.44 L1269.69 1097.1 L1281.69 1098.25 L1286.2 1099 L1286.2 1194 L714.6 1194 Z" fill="#000"/>
<path d="M714.6 1229 L1283.2 1229 L1283.2 1292.5 L1280.2 1292.5 L1280.2 1315.5 L1277.2 1314 L1264.16 1315.71 L1241.11 1316.3 L1239.61 1310.5 L1237.11 1314 L1222.71 1314.77 L1197.6 1316.3 L1196.1 1310.5 L1193.6 1314 L1177.96 1315.59 L1151 1316.3 L1149.5 1304 L1147 1311.5 L1132 1315.38 L1106 1316.3 L1104.5 1304 L1102 1311.5 L1086.6 1315.53 L1060 1316.3 L1058.5 1304 L1056 1311.5 L1037.8 1315.44 L1007 1316.3 L1005.5 1304 L1003 1311.5 L984.8 1315.11 L954 1316.3 L952.5 1304 L950 1311.5 L932.6 1314.74 L903 1316.3 L901.5 1304 L899 1311.5 L884 1315.5 L858 1316.3 L856.5 1304 L854 1311.5 L840.75 1314.71 L817.37 1316.3 L815.87 1310.5 L813.37 1314 L797.72 1314.92 L770.73 1316.3 L769.23 1310.5 L766.73 1314 L749.08 1314.5 L719.1 1316.3 L718.1 1292.5 L714.6 1292.5 Z" fill="#000"/>
<path d="M722.06 1132.36 L723.67 1132.36 L729.91 1192.3 L728.3 1192.3 Z M728.36 1131.66 L729.86 1131.66 L735.16 1192.3 L733.66 1192.3 Z M733.86 1102.55 L735.34 1102.55 L745.06 1192.3 L743.57 1192.3 Z M744.78 1132.25 L746.22 1132.25 L752.05 1192.3 L750.61 1192.3 Z M752.41 1132.4 L754.36 1132.4 L760.83 1192.3 L758.88 1192.3 Z M754.95 1132 L755.9 1132 L762.41 1192.3 L761.46 1192.3 Z M758.97 1131.36 L760.7 1131.36 L765.83 1192.3 L764.1 1192.3 Z M765.17 1132.26 L767.09 1132.26 L773.42 1192.3 L771.51 1192.3 Z M769.19 1101.56 L770.69 1101.56 L778.47 1192.3 L776.97 1192.3 Z M776.6 1102.32 L778.97 1102.32 L788.4 1192.3 L786.03 1192.3 Z M783.74 1102.42 L785.77 1102.42 L794.11 1192.3 L791.48 1192.3 Z M793.4 1132.07 L795.6 1132.07 L802.22 1192.3 L800.03 1192.3 Z M800.98 1131.41 L802.45 1131.41 L809.37 1192.3 L807.9 1192.3 Z M808.91 1132.2 L811 1132.2 L817.25 1192.3 L815.16 1192.3 Z M812.96 1101.54 L814.92 1101.54 L824.68 1192.3 L822.71 1192.3 Z M819.29 1102.46 L821.25 1102.46 L826.58 1192.3 L825.6 1192.3 Z M826.21 1101.92 L828.06 1101.92 L835.31 1192.3 L833.46 1192.3 Z M832.06 1102.46 L833.62 1102.46 L838.97 1192.3 L838.19 1192.3 Z M839.99 1101.6 L842.01 1101.6 L850.39 1192.3 L848.36 1192.3 Z M847.25 1102.38 L849.64 1102.38 L859.22 1192.3 L858.02 1192.3 Z M856.03 1131.91 L857.68 1131.91 L863.56 1192.3 L861.91 1192.3 Z M721.48 1102.02 L725.23 1102.02 L726.33 1125.02 L722.58 1125.02 Z M730.22 1101.8 L732.6 1101.8 L733.01 1126.35 L730.63 1126.35 Z M739 1101.99 L741.99 1101.99 L742.81 1126.88 L739.82 1126.88 Z M747.64 1102.68 L750.95 1102.68 L751.42 1125.44 L748.11 1125.44 Z M757.94 1102.69 L761.05 1102.69 L761.76 1125.7 L758.64 1125.7 Z M768.03 1102.49 L770.82 1102.49 L771.12 1126.11 L768.33 1126.11 Z M777.4 1102.17 L781.19 1102.17 L781.39 1126.21 L777.61 1126.21 Z M786.8 1101.92 L789.27 1101.92 L790.06 1125.61 L787.6 1125.61 Z M795.52 1102.4 L798.32 1102.4 L799.61 1126.22 L796.81 1126.22 Z M805.41 1102.2 L808.21 1102.2 L808.83 1126.06 L806.02 1126.06 Z M812.94 1101.62 L816.66 1101.62 L817.85 1126.85 L814.13 1126.85 Z M821.4 1101.88 L823.98 1101.88 L825.36 1125.29 L822.77 1125.29 Z M829.13 1102.45 L831.18 1102.45 L831.97 1125.63 L829.92 1125.63 Z M837.27 1101.71 L840.04 1101.71 L841.03 1125.18 L838.26 1125.18 Z M845.78 1102.08 L848.05 1102.08 L848.09 1125.35 L845.82 1125.35 Z M854.34 1102.58 L857.01 1102.58 L858 1125.92 L855.33 1125.92 Z M1148.65 1131.73 L1149.9 1131.73 L1155.36 1192.3 L1154.1 1192.3 Z M1161.1 1131.95 L1162.63 1131.95 L1167.18 1192.3 L1165.65 1192.3 Z M1173.3 1132 L1175.15 1132 L1180.73 1192.3 L1178.88 1192.3 Z M1182.03 1132.26 L1183.74 1132.26 L1187.49 1192.3 L1185.79 1192.3 Z M1191.87 1132.22 L1193.8 1132.22 L1199.2 1192.3 L1197.28 1192.3 Z M1195.1 1132 L1196.2 1132 L1201.63 1192.3 L1200.53 1192.3 Z M1198.17 1101.64 L1199.84 1101.64 L1205.85 1192.3 L1204.18 1192.3 Z M1211.78 1131.66 L1214.02 1131.66 L1219.28 1192.3 L1217.04 1192.3 Z M1222.4 1131.9 L1224.07 1131.9 L1230.39 1192.3 L1228.72 1192.3 Z M1226.07 1132 L1227.21 1132 L1233.52 1192.3 L1232.38 1192.3 Z M1229.62 1131.17 L1231.57 1131.17 L1235.63 1192.3 L1233.68 1192.3 Z M1240.7 1131.22 L1242.7 1131.22 L1248.06 1192.3 L1246.06 1192.3 Z M1250.42 1131.02 L1252.17 1131.02 L1255.76 1192.3 L1254 1192.3 Z M1260.71 1101.74 L1262.38 1101.74 L1271.19 1192.3 L1270.36 1192.3 Z M1267.15 1132 L1268.25 1132 L1274.68 1192.3 L1273.57 1192.3 Z M1270.84 1101.79 L1272.06 1101.79 L1275.88 1192.3 L1274.66 1192.3 Z M1279.63 1131.4 L1280.91 1131.4 L1282.26 1192.3 L1280.99 1192.3 Z M1146.36 1102.15 L1149.15 1102.15 L1150.47 1126.15 L1147.68 1126.15 Z M1153.61 1102.05 L1156.29 1102.05 L1156.32 1126.71 L1153.64 1126.71 Z M1162.68 1102.66 L1166.26 1102.66 L1166.31 1126.39 L1162.74 1126.39 Z M1171.66 1102.05 L1174.46 1102.05 L1175.47 1126.1 L1172.67 1126.1 Z M1179.02 1102.76 L1181.21 1102.76 L1181.9 1125.56 L1179.72 1125.56 Z M1189.47 1102.79 L1191.61 1102.79 L1191.84 1126.34 L1189.71 1126.34 Z M1199.11 1102.68 L1202.07 1102.68 L1202.74 1125.3 L1199.79 1125.3 Z M1209.27 1101.95 L1212.42 1101.95 L1213.81 1126.01 L1210.67 1126.01 Z M1218.98 1101.73 L1221.53 1101.73 L1222.07 1125.21 L1219.53 1125.21 Z M1226.46 1102.76 L1229.74 1102.76 L1230.52 1126.57 L1227.24 1126.57 Z M1235.61 1101.85 L1238.61 1101.85 L1239.8 1125.75 L1236.8 1125.75 Z M1243.84 1102.49 L1247.02 1102.49 L1247.88 1126.93 L1244.7 1126.93 Z M1254.01 1101.78 L1256.88 1101.78 L1257.27 1126.19 L1254.4 1126.19 Z M1261.01 1102.67 L1264.05 1102.67 L1264.52 1125.85 L1261.48 1125.85 Z M1269.96 1102.71 L1272.63 1102.71 L1273.03 1126.86 L1270.35 1126.86 Z M1280.05 1102.77 L1282.45 1102.77 L1282.74 1126.38 L1280.34 1126.38 Z M859.5 1102.3 L863.18 1102.3 L885.99 1192.3 L882.31 1192.3 Z M867.76 1103.1 L871.29 1103.1 L893.45 1192.3 L889.91 1192.3 Z M875.61 1102.27 L878.99 1102.27 L903.32 1192.3 L899.95 1192.3 Z M890.55 1131 L894.16 1131 L909.35 1192.3 L905.73 1192.3 Z M897.35 1131 L899.85 1131 L915.37 1192.3 L912.87 1192.3 Z M905.37 1131 L908.39 1131 L922.95 1192.3 L919.93 1192.3 Z M904.5 1102.54 L907.34 1102.54 L929.1 1192.3 L926.26 1192.3 Z M912.57 1103.19 L915.5 1103.19 L940.33 1192.3 L937.4 1192.3 Z M920.5 1102.27 L923.54 1102.27 L949.6 1192.3 L946.55 1192.3 Z M934.74 1131 L938.46 1131 L952.67 1192.3 L948.95 1192.3 Z M942 1131 L944.63 1131 L958.91 1192.3 L956.28 1192.3 Z M948.67 1131 L952.18 1131 L968.24 1192.3 L964.72 1192.3 Z M955.53 1131 L958.63 1131 L974.3 1192.3 L971.2 1192.3 Z M955.5 1102.59 L958.66 1102.59 L982.38 1192.3 L979.22 1192.3 Z M963.33 1102.16 L965.96 1102.16 L991.96 1192.3 L989.34 1192.3 Z M970.88 1102.25 L974.14 1102.25 L999.95 1192.3 L996.69 1192.3 Z M978.91 1102.13 L981.82 1102.13 L1006.95 1192.3 L1004.03 1192.3 Z M992.61 1131 L995.99 1131 L1013.14 1192.3 L1009.77 1192.3 Z M1000.58 1131 L1003.71 1131 L1018.06 1192.3 L1014.92 1192.3 Z M1009.07 1131 L1011.87 1131 L1027.25 1192.3 L1024.44 1192.3 Z M1008.5 1102.28 L1011.77 1102.28 L1036.62 1192.3 L1033.35 1192.3 Z M1015.17 1103.43 L1017.89 1103.43 L1039.67 1192.3 L1036.96 1192.3 Z M1022.62 1103.21 L1025.94 1103.21 L1051.02 1192.3 L1047.71 1192.3 Z M1030.86 1102.8 L1034.35 1102.8 L1057.14 1192.3 L1053.65 1192.3 Z M1044.41 1131 L1047.66 1131 L1061.87 1192.3 L1058.62 1192.3 Z M1052.46 1131 L1055.9 1131 L1072.8 1192.3 L1069.35 1192.3 Z M1060.09 1131 L1062.98 1131 L1078.02 1192.3 L1075.13 1192.3 Z M1061.5 1102.46 L1065.08 1102.46 L1090.93 1192.3 L1087.35 1192.3 Z M1069.01 1102.43 L1072.43 1102.43 L1096.04 1192.3 L1092.62 1192.3 Z M1076.97 1103.07 L1079.64 1103.07 L1105.5 1192.3 L1102.84 1192.3 Z M1090.99 1131 L1094.53 1131 L1111.04 1192.3 L1107.5 1192.3 Z M1097.53 1131 L1100.36 1131 L1116.86 1192.3 L1114.04 1192.3 Z M1105.6 1131 L1108.54 1131 L1123.96 1192.3 L1121.02 1192.3 Z M1107.5 1103.28 L1110.05 1103.28 L1132.09 1192.3 L1129.55 1192.3 Z M1115.24 1103.03 L1118.87 1103.03 L1140.35 1192.3 L1136.72 1192.3 Z M1123.49 1102.11 L1126.07 1102.11 L1148.72 1192.3 L1146.14 1192.3 Z M1136.71 1131 L1140.26 1131 L1156.57 1192.3 L1153.02 1192.3 Z M1143.7 1131 L1147.24 1131 L1163.66 1192.3 L1160.12 1192.3 Z M1150.79 1131 L1153.78 1131 L1167.93 1192.3 L1164.93 1192.3 Z M719.1 1230.5 L721.23 1230.5 L726.31 1289.8 L724.18 1289.8 Z M725.68 1230.5 L727.19 1230.5 L734.11 1289.8 L732.61 1289.8 Z M731.52 1230.5 L733.53 1230.5 L738.13 1289.8 L736.12 1289.8 Z M738.44 1230.5 L740.24 1230.5 L746.65 1289.8 L744.85 1289.8 Z M745.5 1230.5 L747.25 1230.5 L752.82 1289.8 L751.07 1289.8 Z M752.49 1230.5 L753.93 1230.5 L759.13 1289.8 L757.68 1289.8 Z M758.35 1230.5 L760.71 1230.5 L766.81 1289.8 L764.45 1289.8 Z M765.18 1230.5 L767.56 1230.5 L772.18 1289.8 L769.8 1289.8 Z M771.83 1230.5 L773.8 1230.5 L778.22 1289.8 L776.25 1289.8 Z M779.13 1230.5 L781.55 1230.5 L786.06 1289.8 L783.65 1289.8 Z M781.38 1230.5 L782.55 1230.5 L787.06 1289.8 L785.89 1289.8 Z M785.84 1230.5 L787.45 1230.5 L792.8 1311.5 L791.19 1311.5 Z M793.46 1230.5 L795.93 1230.5 L799.82 1289.8 L797.36 1289.8 Z M799.3 1230.5 L800.66 1230.5 L804.78 1289.8 L803.42 1289.8 Z M807.55 1230.5 L809.97 1230.5 L815.49 1289.8 L813.07 1289.8 Z M815.59 1230.5 L817.24 1230.5 L824.52 1311.5 L822.87 1311.5 Z M822.97 1230.5 L824.83 1230.5 L831.38 1289.8 L829.51 1289.8 Z M830.54 1230.5 L832.03 1230.5 L836 1289.8 L834.51 1289.8 Z M838.15 1230.5 L840.27 1230.5 L845.83 1289.8 L843.7 1289.8 Z M845.97 1230.5 L848.36 1230.5 L853.95 1311.5 L851.56 1311.5 Z M851.9 1230.5 L854.03 1230.5 L860.57 1289.8 L858.45 1289.8 Z M722.1 1295.72 L724.43 1295.72 L725.46 1312.09 L723.13 1312.09 Z M730.11 1296.83 L731.55 1296.83 L732.88 1310.53 L731.44 1310.53 Z M737.86 1296.42 L739.56 1296.42 L740.81 1312.11 L739.11 1312.11 Z M744.63 1295.61 L746.08 1295.61 L747.4 1310.97 L745.94 1310.97 Z M752.91 1296.37 L755.49 1296.37 L756.63 1311.34 L754.06 1311.34 Z M760.36 1296.43 L761.86 1296.43 L763.31 1311.5 L761.81 1311.5 Z M766.9 1296.21 L767.93 1296.21 L768.98 1311.77 L767.94 1311.77 Z M775.77 1296.57 L777.75 1296.57 L779.19 1310.95 L777.21 1310.95 Z M782.83 1296.28 L784.05 1296.28 L785.72 1311.41 L784.5 1311.41 Z M788.1 1296.55 L789.81 1296.55 L791.04 1311.46 L789.33 1311.46 Z M795.49 1296.21 L797.24 1296.21 L798.35 1310.57 L796.59 1310.57 Z M803.97 1296.7 L804.94 1296.7 L806.22 1310.94 L805.26 1310.94 Z M810.57 1296.07 L812.29 1296.07 L813.41 1311.22 L811.7 1311.22 Z M815.94 1295.65 L817.27 1295.65 L818.6 1312.06 L817.27 1312.06 Z M825.34 1295.84 L826.53 1295.84 L827.52 1312.06 L826.33 1312.06 Z M833.03 1295.5 L835.04 1295.5 L836.37 1311.6 L834.36 1311.6 Z M841 1296.11 L842.9 1296.11 L844.17 1311.11 L842.27 1311.11 Z M846.94 1296.5 L847.97 1296.5 L849.36 1311.73 L848.34 1311.73 Z M1152 1230.5 L1153.58 1230.5 L1158.97 1289.8 L1157.39 1289.8 Z M1164.19 1230.5 L1165.44 1230.5 L1171.35 1289.8 L1170.1 1289.8 Z M1174.07 1230.5 L1175.32 1230.5 L1181.35 1311.5 L1180.11 1311.5 Z M1177.38 1230.5 L1178.3 1230.5 L1182.71 1289.8 L1181.8 1289.8 Z M1182.61 1230.5 L1183.88 1230.5 L1188.91 1289.8 L1187.64 1289.8 Z M1191.91 1230.5 L1193.74 1230.5 L1197.1 1289.8 L1195.26 1289.8 Z M1203.99 1230.5 L1206.17 1230.5 L1212.08 1289.8 L1209.9 1289.8 Z M1214.03 1230.5 L1215.48 1230.5 L1220.98 1289.8 L1219.53 1289.8 Z M1222.73 1230.5 L1224.85 1230.5 L1231.29 1289.8 L1229.17 1289.8 Z M1231.74 1230.5 L1233.28 1230.5 L1239.14 1289.8 L1237.61 1289.8 Z M1240.29 1230.5 L1242.03 1230.5 L1248.32 1289.8 L1246.57 1289.8 Z M1252.49 1230.5 L1253.81 1230.5 L1257.69 1289.8 L1256.37 1289.8 Z M1261.7 1230.5 L1263.03 1230.5 L1269.41 1289.8 L1268.08 1289.8 Z M1275.11 1230.5 L1276.36 1230.5 L1278.2 1289.8 L1276.95 1289.8 Z M1155 1296.26 L1156.05 1296.26 L1157.42 1311.78 L1156.37 1311.78 Z M1167.13 1295.85 L1168.17 1295.85 L1169.24 1312.15 L1168.2 1312.15 Z M1177.48 1296.35 L1178.73 1296.35 L1180.32 1311.73 L1179.07 1311.73 Z M1191.02 1296.31 L1192.35 1296.31 L1193.97 1311.79 L1192.64 1311.79 Z M1202.24 1295.61 L1204.54 1295.61 L1205.42 1311.99 L1203.12 1311.99 Z M1212.98 1296.74 L1215.15 1296.74 L1216.03 1312.13 L1213.85 1312.13 Z M1224.61 1296.94 L1226.07 1296.94 L1227.5 1310.7 L1226.04 1310.7 Z M1237.23 1295.68 L1238.55 1295.68 L1239.92 1311.31 L1238.6 1311.31 Z M1249.43 1295.57 L1251.13 1295.57 L1252.43 1310.79 L1250.74 1310.79 Z M1261.3 1296.58 L1262.93 1296.58 L1264.23 1311.96 L1262.59 1311.96 Z M1273.08 1296.81 L1274.88 1296.81 L1275.38 1310.93 L1273.58 1310.93 Z M853 1230.5 L856.16 1230.5 L871.86 1289.5 L868.7 1289.5 Z M859.67 1230.5 L862.55 1230.5 L878.03 1289.5 L875.15 1289.5 Z M866.84 1230.5 L869.95 1230.5 L884.13 1289.5 L881.01 1289.5 Z M874.19 1230.5 L877.48 1230.5 L892.64 1289.5 L889.34 1289.5 Z M881.19 1230.5 L884.81 1230.5 L899.24 1289.5 L895.61 1289.5 Z M888.88 1230.5 L892.36 1230.5 L906.99 1289.5 L903.51 1289.5 Z M859.07 1231 L860.24 1231 L875.77 1289 L874.6 1289 Z M865.62 1231 L866.67 1231 L882.77 1289 L881.73 1289 Z M872.42 1231 L873.39 1231 L888.94 1289 L887.97 1289 Z M879.08 1231 L880.2 1231 L894.58 1289 L893.47 1289 Z M886.92 1231 L887.75 1231 L902.19 1289 L901.36 1289 Z M895.36 1231 L896.27 1231 L911.57 1289 L910.66 1289 Z M898 1230.5 L901.95 1230.5 L916.38 1289.5 L912.42 1289.5 Z M904.27 1230.5 L907.71 1230.5 L923.4 1289.5 L919.96 1289.5 Z M912.08 1230.5 L915.83 1230.5 L931.76 1289.5 L928.02 1289.5 Z M918.11 1230.5 L921.08 1230.5 L935.8 1289.5 L932.84 1289.5 Z M926.37 1230.5 L929.58 1230.5 L945.72 1289.5 L942.51 1289.5 Z M933.14 1230.5 L935.97 1230.5 L952.53 1289.5 L949.7 1289.5 Z M939.37 1230.5 L942.85 1230.5 L958.93 1289.5 L955.45 1289.5 Z M905.74 1231 L906.9 1231 L921.09 1289 L919.93 1289 Z M912.59 1231 L913.74 1231 L928.74 1289 L927.59 1289 Z M919.68 1231 L920.45 1231 L936.94 1289 L936.17 1289 Z M927.39 1231 L928.16 1231 L942.22 1289 L941.46 1289 Z M934.39 1231 L935.41 1231 L949.41 1289 L948.39 1289 Z M942.95 1231 L944.03 1231 L958.95 1289 L957.86 1289 Z M949 1230.5 L952.21 1230.5 L967.77 1289.5 L964.56 1289.5 Z M956.53 1230.5 L959.63 1230.5 L975.52 1289.5 L972.43 1289.5 Z M963.89 1230.5 L967.33 1230.5 L983.15 1289.5 L979.7 1289.5 Z M970.69 1230.5 L973.49 1230.5 L988.89 1289.5 L986.09 1289.5 Z M976.69 1230.5 L980.24 1230.5 L995.58 1289.5 L992.02 1289.5 Z M984.1 1230.5 L987.75 1230.5 L1003.41 1289.5 L999.77 1289.5 Z M991.82 1230.5 L994.86 1230.5 L1009.65 1289.5 L1006.6 1289.5 Z M998.57 1230.5 L1002.05 1230.5 L1017.46 1289.5 L1013.97 1289.5 Z M956.32 1231 L957.43 1231 L973.19 1289 L972.08 1289 Z M963.61 1231 L964.52 1231 L978.6 1289 L977.69 1289 Z M970.39 1231 L971.48 1231 L987.09 1289 L986 1289 Z M978.66 1231 L979.59 1231 L996.07 1289 L995.14 1289 Z M986.54 1231 L987.41 1231 L1001.63 1289 L1000.77 1289 Z M995.08 1231 L996.03 1231 L1011.78 1289 L1010.84 1289 Z M1002 1230.5 L1005.35 1230.5 L1022.2 1289.5 L1018.85 1289.5 Z M1008.25 1230.5 L1011.52 1230.5 L1027.53 1289.5 L1024.26 1289.5 Z M1016.19 1230.5 L1019.38 1230.5 L1034.69 1289.5 L1031.5 1289.5 Z M1023.6 1230.5 L1027.06 1230.5 L1043 1289.5 L1039.54 1289.5 Z M1030.5 1230.5 L1034.11 1230.5 L1050.34 1289.5 L1046.73 1289.5 Z M1037.6 1230.5 L1041.36 1230.5 L1057.41 1289.5 L1053.65 1289.5 Z M1045.68 1230.5 L1049.67 1230.5 L1065.32 1289.5 L1061.33 1289.5 Z M1051.7 1230.5 L1054.79 1230.5 L1069.8 1289.5 L1066.72 1289.5 Z M1011.18 1231 L1011.91 1231 L1027.29 1289 L1026.55 1289 Z M1018.33 1231 L1019.29 1231 L1033.6 1289 L1032.63 1289 Z M1027.03 1231 L1028.02 1231 L1042.4 1289 L1041.41 1289 Z M1034.13 1231 L1035.13 1231 L1051.9 1289 L1050.91 1289 Z M1042.66 1231 L1043.68 1231 L1058.36 1289 L1057.33 1289 Z M1049.42 1231 L1050.31 1231 L1065.8 1289 L1064.91 1289 Z M1055 1230.5 L1058.48 1230.5 L1072.95 1289.5 L1069.48 1289.5 Z M1062.39 1230.5 L1065.63 1230.5 L1081.18 1289.5 L1077.95 1289.5 Z M1070.71 1230.5 L1074.07 1230.5 L1088.73 1289.5 L1085.37 1289.5 Z M1079.15 1230.5 L1082.71 1230.5 L1098.79 1289.5 L1095.24 1289.5 Z M1085.45 1230.5 L1089.15 1230.5 L1103.66 1289.5 L1099.97 1289.5 Z M1092.67 1230.5 L1095.59 1230.5 L1109.82 1289.5 L1106.9 1289.5 Z M1061.48 1231 L1062.23 1231 L1077.57 1289 L1076.82 1289 Z M1070.07 1231 L1070.83 1231 L1086.86 1289 L1086.11 1289 Z M1077.52 1231 L1078.24 1231 L1094.64 1289 L1093.91 1289 Z M1084.62 1231 L1085.69 1231 L1100.45 1289 L1099.39 1289 Z M1092.4 1231 L1093.38 1231 L1108.94 1289 L1107.96 1289 Z M1100.52 1231 L1101.55 1231 L1115.69 1289 L1114.66 1289 Z M1101 1230.5 L1104.61 1230.5 L1119.66 1289.5 L1116.04 1289.5 Z M1109.22 1230.5 L1112.91 1230.5 L1129.43 1289.5 L1125.75 1289.5 Z M1116.39 1230.5 L1119.9 1230.5 L1134.72 1289.5 L1131.21 1289.5 Z M1124.85 1230.5 L1128.71 1230.5 L1144.9 1289.5 L1141.04 1289.5 Z M1131.81 1230.5 L1134.75 1230.5 L1150.26 1289.5 L1147.32 1289.5 Z M1140.04 1230.5 L1142.9 1230.5 L1158.27 1289.5 L1155.41 1289.5 Z M1108.46 1231 L1109.41 1231 L1124.26 1289 L1123.3 1289 Z M1116.84 1231 L1117.74 1231 L1134.17 1289 L1133.27 1289 Z M1123.44 1231 L1124.62 1231 L1140.65 1289 L1139.47 1289 Z M1130.38 1231 L1131.57 1231 L1147.77 1289 L1146.58 1289 Z M1137.12 1231 L1137.88 1231 L1152.39 1289 L1151.63 1289 Z M1143.96 1231 L1144.78 1231 L1158.97 1289 L1158.15 1289 Z" fill="#fff"/>
<path d="" fill="none" stroke="#000" stroke-width="2.6"/>
<path d="M880.4 1101 L897.5 1103 L891.5 1128.5 L874.4 1128.5 Z M928.52 1101 L947.9 1103 L941.9 1128.5 L922.52 1128.5 Z M980.56 1101 L1000.7 1103 L994.7 1128.5 L974.56 1128.5 Z M1033.56 1101 L1053.7 1103 L1047.7 1128.5 L1027.56 1128.5 Z M1082.92 1101 L1100.4 1103 L1094.4 1128.5 L1076.92 1128.5 Z M1128.4 1101 L1145.5 1103 L1139.5 1128.5 L1122.4 1128.5 Z M861.5 1291 L884.9 1291 L890.9 1314 L867.5 1317 Z M907.1 1291 L933.62 1291 L939.62 1314 L913.1 1317 Z M958.3 1291 L985.86 1291 L991.86 1314 L964.3 1317 Z M1011.3 1291 L1038.86 1291 L1044.86 1314 L1017.3 1317 Z M1063.6 1291 L1087.52 1291 L1093.52 1314 L1069.6 1317 Z M1109.5 1291 L1132.9 1291 L1138.9 1314 L1115.5 1317 Z" fill="#000" stroke="#000" stroke-width="2" stroke-linejoin="round"/>
<path d="M883.4 1105 L885.58 1105 L880.78 1125 L878.6 1125 Z M888.45 1105 L891.07 1105 L886.27 1125 L883.65 1125 Z M894.18 1105 L896.9 1105 L892.1 1125 L889.38 1125 Z M931.52 1105 L933.93 1105 L929.13 1125 L926.72 1125 Z M936.11 1105 L938.96 1105 L934.16 1125 L931.31 1125 Z M940.92 1105 L943.53 1105 L938.73 1125 L936.12 1125 Z M945.61 1105 L948.13 1105 L943.33 1125 L940.81 1125 Z M983.56 1105 L985.66 1105 L980.86 1125 L978.76 1125 Z M989.34 1105 L991.85 1105 L987.05 1125 L984.54 1125 Z M994.53 1105 L996.55 1105 L991.75 1125 L989.73 1125 Z M1036.56 1105 L1039.27 1105 L1034.47 1125 L1031.76 1125 Z M1042.13 1105 L1044.27 1105 L1039.47 1125 L1037.33 1125 Z M1047.02 1105 L1049.75 1105 L1044.95 1125 L1042.22 1125 Z M1085.92 1105 L1088.49 1105 L1083.69 1125 L1081.12 1125 Z M1090.99 1105 L1093.02 1105 L1088.22 1125 L1086.19 1125 Z M1095.76 1105 L1098.67 1105 L1093.87 1125 L1090.96 1125 Z M1131.4 1105 L1134.18 1105 L1129.38 1125 L1126.6 1125 Z M1136.49 1105 L1138.99 1105 L1134.19 1125 L1131.69 1125 Z M1142.05 1105 L1144.46 1105 L1139.66 1125 L1137.25 1125 Z M864.5 1295 L866.67 1295 L871.09 1312 L868.92 1312 Z M870 1295 L872.69 1295 L877.11 1312 L874.42 1312 Z M874.91 1295 L876.9 1295 L881.32 1312 L879.33 1312 Z M880.85 1295 L883.56 1295 L887.98 1312 L885.27 1312 Z M910.1 1295 L911.93 1295 L916.35 1312 L914.52 1312 Z M915.51 1295 L918.02 1295 L922.44 1312 L919.93 1312 Z M921.3 1295 L923.3 1295 L927.72 1312 L925.72 1312 Z M926.74 1295 L929.23 1295 L933.65 1312 L931.16 1312 Z M932.61 1295 L934.47 1295 L938.89 1312 L937.03 1312 Z M961.3 1295 L963.47 1295 L967.89 1312 L965.72 1312 Z M967.27 1295 L969.53 1295 L973.95 1312 L971.69 1312 Z M973 1295 L974.86 1295 L979.28 1312 L977.42 1312 Z M977.84 1295 L979.88 1295 L984.3 1312 L982.26 1312 Z M983.6 1295 L985.91 1295 L990.33 1312 L988.02 1312 Z M1014.3 1295 L1017.05 1295 L1021.47 1312 L1018.72 1312 Z M1019.95 1295 L1021.86 1295 L1026.28 1312 L1024.37 1312 Z M1025.2 1295 L1027.49 1295 L1031.91 1312 L1029.62 1312 Z M1031.09 1295 L1033.52 1295 L1037.94 1312 L1035.51 1312 Z M1036.96 1295 L1039.56 1295 L1043.98 1312 L1041.38 1312 Z M1066.6 1295 L1069.02 1295 L1073.44 1312 L1071.02 1312 Z M1072.52 1295 L1074.78 1295 L1079.2 1312 L1076.94 1312 Z M1078.55 1295 L1081.02 1295 L1085.44 1312 L1082.97 1312 Z M1083.46 1295 L1085.54 1295 L1089.96 1312 L1087.88 1312 Z M1112.5 1295 L1114.32 1295 L1118.74 1312 L1116.92 1312 Z M1117.97 1295 L1120.04 1295 L1124.46 1312 L1122.39 1312 Z M1123 1295 L1125.19 1295 L1129.61 1312 L1127.42 1312 Z M1128.13 1295 L1130.58 1295 L1135 1312 L1132.55 1312 Z" fill="#fff"/>
<path d="M898.5 1104 L901.5 1102 L906.5 1126 L892.5 1126 Z M948.9 1104 L952.5 1102 L957.5 1126 L942.9 1126 Z M1001.7 1104 L1005.5 1102 L1010.5 1126 L995.7 1126 Z M1054.7 1104 L1058.5 1102 L1063.5 1126 L1048.7 1126 Z M1101.4 1104 L1104.5 1102 L1109.5 1126 L1095.4 1126 Z M1146.5 1104 L1149.5 1102 L1154.5 1126 L1140.5 1126 Z M893 1314 L901 1314 L897 1298 Z M944 1314 L952 1314 L948 1298 Z M997 1314 L1005 1314 L1001 1298 Z M1050 1314 L1058 1314 L1054 1298 Z M1096 1314 L1104 1314 L1100 1298 Z M1141 1314 L1149 1314 L1145 1298 Z" fill="#fff"/>
<path d="M714.6 1099.5 L720.31 1098.2 L731.77 1097.98 L739.43 1097.76 L748.13 1097.17 L757.1 1096.91 L769.23 1099.6 L778.25 1098.59 L785.35 1097.61 L797.21 1097.46 L806.28 1098.15 L815.87 1099.6 L830.59 1096.94 L854 1099.7 L856.5 1104.5 L859 1100 L872.75 1097.39 L899 1098.81 L901.5 1104.5 L904 1100 L919.85 1097.32 L950 1099.85 L952.5 1104.5 L955 1100 L971.55 1097.14 L1003 1098.85 L1005.5 1104.5 L1008 1100 L1024.55 1097.08 L1056 1099.12 L1058.5 1104.5 L1061 1100 L1075.1 1096.93 L1102 1099.2 L1104.5 1104.5 L1107 1100 L1120.75 1096.81 L1147 1099.32 L1149.5 1104.5 L1152 1100 L1156.76 1096.91 L1169.43 1098.02 L1177.15 1098.32 L1184.53 1097.17 L1196.1 1099.6 L1202.38 1098.29 L1214.94 1098.56 L1226.37 1097.85 L1235.2 1096.86 L1239.61 1099.6 L1246.75 1096.96 L1258.99 1097.44 L1269.69 1097.1 L1281.69 1098.25 L1286.2 1099 L1286.2 1194 L714.6 1194 Z" fill="none" stroke="#000" stroke-width="3"/>
<path d="M714.6 1229 L1283.2 1229 L1283.2 1292.5 L1280.2 1292.5 L1280.2 1315.5 L1277.2 1314 L1264.16 1315.71 L1241.11 1316.3 L1239.61 1310.5 L1237.11 1314 L1222.71 1314.77 L1197.6 1316.3 L1196.1 1310.5 L1193.6 1314 L1177.96 1315.59 L1151 1316.3 L1149.5 1304 L1147 1311.5 L1132 1315.38 L1106 1316.3 L1104.5 1304 L1102 1311.5 L1086.6 1315.53 L1060 1316.3 L1058.5 1304 L1056 1311.5 L1037.8 1315.44 L1007 1316.3 L1005.5 1304 L1003 1311.5 L984.8 1315.11 L954 1316.3 L952.5 1304 L950 1311.5 L932.6 1314.74 L903 1316.3 L901.5 1304 L899 1311.5 L884 1315.5 L858 1316.3 L856.5 1304 L854 1311.5 L840.75 1314.71 L817.37 1316.3 L815.87 1310.5 L813.37 1314 L797.72 1314.92 L770.73 1316.3 L769.23 1310.5 L766.73 1314 L749.08 1314.5 L719.1 1316.3 L718.1 1292.5 L714.6 1292.5 Z" fill="none" stroke="#000" stroke-width="3"/>
<rect x="710.45" y="1193.55" width="579.3" height="35.8" fill="#fff" stroke="#000" stroke-width="2.5"/>
<path d="M786.5 1459 L795.26 1457.67 L809.13 1459.1 L826.21 1456.65 L854 1459.01 L856.5 1464 L859 1459.5 L872.75 1456.48 L899 1458.06 L901.5 1464 L904 1459.5 L919.85 1456.68 L950 1458.05 L952.5 1464 L955 1459.5 L971.55 1456.98 L1003 1458.9 L1005.5 1464 L1008 1459.5 L1024.55 1456.37 L1056 1458.12 L1058.5 1464 L1061 1459.5 L1075.1 1456.54 L1102 1459.37 L1104.5 1464 L1107 1459.5 L1120.75 1456.81 L1147 1459.14 L1149.5 1464 L1152 1459.5 L1157.14 1457.84 L1169.92 1457.8 L1177.96 1456.62 L1189.35 1457.66 L1197.89 1456.31 L1206.64 1457.79 L1213.8 1458.5 L1213.8 1553.5 L786.5 1553.5 Z" fill="#000"/>
<path d="M786.5 1588.5 L1210.8 1588.5 L1210.8 1652 L1207.8 1652 L1207.8 1675 L1204.8 1673.5 L1184.68 1674.4 L1151 1675.8 L1149.5 1663.5 L1147 1671 L1132 1674.49 L1106 1675.8 L1104.5 1663.5 L1102 1671 L1086.6 1675.13 L1060 1675.8 L1058.5 1663.5 L1056 1671 L1037.8 1674.57 L1007 1675.8 L1005.5 1663.5 L1003 1671 L984.8 1674.56 L954 1675.8 L952.5 1663.5 L950 1671 L932.6 1674.56 L903 1675.8 L901.5 1663.5 L899 1671 L884 1675.29 L858 1675.8 L856.5 1663.5 L854 1671 L838.05 1674.46 L810.63 1675.8 L809.13 1670 L806.63 1673.5 L801.78 1674.99 L791 1675.8 L790 1652 L786.5 1652 Z" fill="#000"/>
<path d="M791 1461.04 L793.18 1461.04 L800.87 1551.8 L799.78 1551.8 Z M799.67 1490.66 L801.47 1490.66 L806.68 1551.8 L804.89 1551.8 Z M803.34 1461.86 L805.2 1461.86 L811.04 1551.8 L809.18 1551.8 Z M812.04 1490.82 L813.78 1490.82 L819.18 1551.8 L817.45 1551.8 Z M815.39 1491.5 L816.44 1491.5 L821.78 1551.8 L820.73 1551.8 Z M817.05 1461.87 L818.87 1461.87 L824.16 1551.8 L823.25 1551.8 Z M825.25 1490.87 L826.76 1490.87 L831.35 1551.8 L829.84 1551.8 Z M830.77 1461.56 L832.66 1461.56 L842.7 1551.8 L840.81 1551.8 Z M838.51 1461.35 L840.35 1461.35 L848.71 1551.8 L847.79 1551.8 Z M849.16 1491.75 L851.59 1491.75 L857.8 1551.8 L855.37 1551.8 Z M857.16 1491.92 L859.22 1491.92 L865.03 1551.8 L862.97 1551.8 Z M794.1 1461.12 L796.37 1461.12 L797.45 1484.99 L795.18 1484.99 Z M802.71 1461.98 L805.33 1461.98 L805.99 1485.48 L803.37 1485.48 Z M810.86 1462.24 L813.48 1462.24 L814.3 1485.74 L811.68 1485.74 Z M818.55 1461.91 L820.65 1461.91 L821.93 1484.66 L819.83 1484.66 Z M825.61 1461.19 L828.82 1461.19 L830.15 1484.51 L826.94 1484.51 Z M833.27 1461.44 L836.95 1461.44 L838.03 1485.98 L834.35 1485.98 Z M843.56 1461.58 L847.35 1461.58 L848.33 1485.93 L844.53 1485.93 Z M853.94 1461.27 L855.97 1461.27 L857.07 1485.67 L855.04 1485.67 Z M1146 1461.9 L1147.42 1461.9 L1153.86 1551.8 L1153.15 1551.8 Z M1160.32 1490.73 L1162.29 1490.73 L1167.05 1551.8 L1165.08 1551.8 Z M1165.17 1491.5 L1165.92 1491.5 L1170.62 1551.8 L1169.86 1551.8 Z M1173.75 1491.37 L1175 1491.37 L1180.67 1551.8 L1179.43 1551.8 Z M1182.84 1462.13 L1184.33 1462.13 L1193.87 1551.8 L1191.93 1551.8 Z M1193.83 1491.45 L1195.39 1491.45 L1201.3 1551.8 L1199.74 1551.8 Z M1196.7 1491.5 L1197.87 1491.5 L1203.78 1551.8 L1202.61 1551.8 Z M1204.1 1491.27 L1205.42 1491.27 L1208.2 1551.8 L1206.87 1551.8 Z M1207.01 1491.5 L1207.81 1491.5 L1210.57 1551.8 L1209.77 1551.8 Z M1146.18 1461.17 L1149.89 1461.17 L1150.93 1484.99 L1147.22 1484.99 Z M1155.71 1462.24 L1158.4 1462.24 L1158.45 1484.86 L1155.75 1484.86 Z M1166 1461.57 L1169.19 1461.57 L1170.34 1485.57 L1167.16 1485.57 Z M1173.16 1461.36 L1176.66 1461.36 L1177.45 1484.95 L1173.94 1484.95 Z M1181.99 1461.54 L1184.68 1461.54 L1185.56 1485.07 L1182.86 1485.07 Z M1191.83 1462.05 L1194.91 1462.05 L1195.26 1485.7 L1192.17 1485.7 Z M1202.21 1462.09 L1205.82 1462.09 L1207.2 1486.09 L1203.59 1486.09 Z M859.5 1462.7 L862.62 1462.7 L884.51 1551.8 L881.38 1551.8 Z M866.52 1462.94 L870.08 1462.94 L893 1551.8 L889.43 1551.8 Z M874.8 1462.2 L877.84 1462.2 L903.04 1551.8 L900.01 1551.8 Z M889.84 1490.5 L893.07 1490.5 L907.74 1551.8 L904.51 1551.8 Z M896.77 1490.5 L900.09 1490.5 L917.16 1551.8 L913.84 1551.8 Z M903.72 1490.5 L907.16 1490.5 L922.21 1551.8 L918.77 1551.8 Z M904.5 1462.41 L908.04 1462.41 L931.21 1551.8 L927.67 1551.8 Z M910.98 1462.3 L913.87 1462.3 L939.19 1551.8 L936.3 1551.8 Z M919.22 1462.2 L921.85 1462.2 L947.52 1551.8 L944.89 1551.8 Z M927.42 1461.74 L930.81 1461.74 L955.43 1551.8 L952.03 1551.8 Z M940.63 1490.5 L943.57 1490.5 L960.35 1551.8 L957.42 1551.8 Z M948.9 1490.5 L951.45 1490.5 L967.6 1551.8 L965.06 1551.8 Z M956.87 1490.5 L960.13 1490.5 L976.32 1551.8 L973.06 1551.8 Z M955.5 1462.37 L958.59 1462.37 L984.06 1551.8 L980.97 1551.8 Z M961.62 1462.35 L965.39 1462.35 L990.48 1551.8 L986.7 1551.8 Z M968.79 1461.69 L971.39 1461.69 L996.87 1551.8 L994.27 1551.8 Z M976.67 1462.45 L979.26 1462.45 L1004.17 1551.8 L1001.59 1551.8 Z M991.99 1490.5 L994.98 1490.5 L1011.23 1551.8 L1008.24 1551.8 Z M998.59 1490.5 L1001.78 1490.5 L1016.97 1551.8 L1013.77 1551.8 Z M1006.3 1490.5 L1009.68 1490.5 L1025.96 1551.8 L1022.58 1551.8 Z M1008.5 1462.04 L1011.55 1462.04 L1034.96 1551.8 L1031.91 1551.8 Z M1015.64 1461.53 L1019.22 1461.53 L1043.58 1551.8 L1040 1551.8 Z M1023.09 1461.91 L1026.01 1461.91 L1050.13 1551.8 L1047.21 1551.8 Z M1029.68 1461.74 L1033.32 1461.74 L1055.43 1551.8 L1051.79 1551.8 Z M1043.73 1490.5 L1047.19 1490.5 L1062.46 1551.8 L1058.99 1551.8 Z M1052.01 1490.5 L1055.17 1490.5 L1070.41 1551.8 L1067.25 1551.8 Z M1060.42 1490.5 L1063.05 1490.5 L1078.42 1551.8 L1075.79 1551.8 Z M1061.5 1462.96 L1064.71 1462.96 L1087.88 1551.8 L1084.67 1551.8 Z M1069.05 1462.89 L1071.55 1462.89 L1093.94 1551.8 L1091.44 1551.8 Z M1076.72 1462.26 L1080.48 1462.26 L1106.34 1551.8 L1102.58 1551.8 Z M1091.71 1490.5 L1095.26 1490.5 L1109.37 1551.8 L1105.82 1551.8 Z M1099.2 1490.5 L1102.09 1490.5 L1118.18 1551.8 L1115.29 1551.8 Z M1107.15 1490.5 L1110.94 1490.5 L1127.14 1551.8 L1123.35 1551.8 Z M1107.5 1461.56 L1110.43 1461.56 L1133.64 1551.8 L1130.71 1551.8 Z M1114.09 1461.96 L1117.05 1461.96 L1141.61 1551.8 L1138.65 1551.8 Z M1120.87 1462.75 L1124.31 1462.75 L1149.85 1551.8 L1146.41 1551.8 Z M1127.45 1461.76 L1130.75 1461.76 L1155.45 1551.8 L1152.16 1551.8 Z M1141.36 1490.5 L1144.42 1490.5 L1158.68 1551.8 L1155.62 1551.8 Z M1147.51 1490.5 L1151.3 1490.5 L1165.89 1551.8 L1162.11 1551.8 Z M1154.16 1490.5 L1157.5 1490.5 L1172.12 1551.8 L1168.79 1551.8 Z M791 1590 L792.45 1590 L797.97 1649.3 L796.51 1649.3 Z M798.78 1590 L800.31 1590 L805.06 1649.3 L803.53 1649.3 Z M805.57 1590 L807.71 1590 L813.47 1649.3 L811.33 1649.3 Z M812.92 1590 L814.88 1590 L823.25 1671 L821.3 1671 Z M820.82 1590 L822.91 1590 L827.86 1649.3 L825.77 1649.3 Z M829.19 1590 L831.12 1590 L834.79 1649.3 L832.86 1649.3 Z M837 1590 L838.98 1590 L844.35 1649.3 L842.38 1649.3 Z M843.3 1590 L845.31 1590 L851.46 1649.3 L849.45 1649.3 Z M850.43 1590 L852.71 1590 L860.27 1671 L857.99 1671 Z M794 1656.31 L795.33 1656.31 L796.48 1670.77 L795.15 1670.77 Z M801.75 1655.82 L802.79 1655.82 L804.16 1670.64 L803.12 1670.64 Z M812.01 1655.96 L814.54 1655.96 L815.79 1670.45 L813.26 1670.45 Z M819.72 1655.17 L821.13 1655.17 L822.36 1671.1 L820.95 1671.1 Z M830.1 1656.02 L832.16 1656.02 L833.59 1671.08 L831.53 1671.08 Z M838.94 1656.4 L840.34 1656.4 L841.94 1670.47 L840.54 1670.47 Z M846.84 1656.04 L848.28 1656.04 L849.26 1670.7 L847.82 1670.7 Z M1152 1590 L1154.11 1590 L1158.88 1649.3 L1156.76 1649.3 Z M1163.96 1590 L1165.43 1590 L1170.5 1649.3 L1169.02 1649.3 Z M1174.21 1590 L1176.21 1590 L1181.84 1649.3 L1179.84 1649.3 Z M1183.23 1590 L1184.81 1590 L1190.16 1671 L1188.58 1671 Z M1191.79 1590 L1193.58 1590 L1197.36 1649.3 L1195.57 1649.3 Z M1203.29 1590 L1205.25 1590 L1206.06 1649.3 L1204.1 1649.3 Z M1155 1656.26 L1156.93 1656.26 L1158.48 1671.04 L1156.55 1671.04 Z M1164.79 1655.64 L1165.68 1655.64 L1167.37 1671.73 L1166.48 1671.73 Z M1181.72 1656.04 L1183.19 1656.04 L1184.75 1671.49 L1183.28 1671.49 Z M1197.43 1655.69 L1199.85 1655.69 L1200.2 1671.09 L1197.79 1671.09 Z M853 1590 L855.95 1590 L870.33 1649 L867.38 1649 Z M859.85 1590 L863.83 1590 L880.55 1649 L876.56 1649 Z M868.2 1590 L871.62 1590 L888.23 1649 L884.8 1649 Z M874.26 1590 L877.38 1590 L893.27 1649 L890.14 1649 Z M881.97 1590 L885.75 1590 L902.47 1649 L898.69 1649 Z M889.44 1590 L892.91 1590 L909.85 1649 L906.38 1649 Z M859.52 1590.5 L860.29 1590.5 L875.29 1648.5 L874.52 1648.5 Z M867.73 1590.5 L868.66 1590.5 L885.35 1648.5 L884.42 1648.5 Z M876.19 1590.5 L877.33 1590.5 L893.65 1648.5 L892.51 1648.5 Z M884.53 1590.5 L885.43 1590.5 L900.97 1648.5 L900.06 1648.5 Z M892.95 1590.5 L894.13 1590.5 L908.6 1648.5 L907.42 1648.5 Z M898 1590 L901.57 1590 L917.47 1649 L913.9 1649 Z M905.83 1590 L909.48 1590 L926.39 1649 L922.74 1649 Z M914.32 1590 L917.74 1590 L932.93 1649 L929.52 1649 Z M921.12 1590 L924.76 1590 L939.42 1649 L935.78 1649 Z M928.35 1590 L931.59 1590 L946.9 1649 L943.66 1649 Z M934.79 1590 L937.99 1590 L952.96 1649 L949.76 1649 Z M942.42 1590 L946.24 1590 L961.28 1649 L957.46 1649 Z M904.05 1590.5 L904.83 1590.5 L920.82 1648.5 L920.03 1648.5 Z M912.45 1590.5 L913.53 1590.5 L927.72 1648.5 L926.64 1648.5 Z M920.77 1590.5 L921.63 1590.5 L935.99 1648.5 L935.13 1648.5 Z M929.17 1590.5 L930.25 1590.5 L947.03 1648.5 L945.95 1648.5 Z M938 1590.5 L939.13 1590.5 L955.12 1648.5 L953.98 1648.5 Z M946.37 1590.5 L947.27 1590.5 L963.97 1648.5 L963.08 1648.5 Z M949 1590 L952.65 1590 L968.14 1649 L964.49 1649 Z M955.37 1590 L958.5 1590 L973.92 1649 L970.79 1649 Z M963.78 1590 L966.61 1590 L982.54 1649 L979.71 1649 Z M971.21 1590 L974.5 1590 L990.43 1649 L987.14 1649 Z M978.24 1590 L982 1590 L996.69 1649 L992.93 1649 Z M986.35 1590 L989.2 1590 L1004.23 1649 L1001.38 1649 Z M994.64 1590 L997.51 1590 L1012.49 1649 L1009.62 1649 Z M956.28 1590.5 L957.24 1590.5 L973.06 1648.5 L972.1 1648.5 Z M963.96 1590.5 L964.97 1590.5 L979.72 1648.5 L978.71 1648.5 Z M971.68 1590.5 L972.45 1590.5 L987.73 1648.5 L986.97 1648.5 Z M980.43 1590.5 L981.32 1590.5 L997.48 1648.5 L996.59 1648.5 Z M987.28 1590.5 L988.32 1590.5 L1003.5 1648.5 L1002.47 1648.5 Z M995.89 1590.5 L997.03 1590.5 L1012.38 1648.5 L1011.25 1648.5 Z M1002 1590 L1005.62 1590 L1021.61 1649 L1017.98 1649 Z M1010.31 1590 L1013.43 1590 L1028.29 1649 L1025.17 1649 Z M1016.8 1590 L1020 1590 L1037.03 1649 L1033.82 1649 Z M1024.92 1590 L1028.37 1590 L1045.21 1649 L1041.77 1649 Z M1032.01 1590 L1035.53 1590 L1050.12 1649 L1046.6 1649 Z M1039.75 1590 L1042.76 1590 L1059.44 1649 L1056.44 1649 Z M1048 1590 L1050.95 1590 L1066.75 1649 L1063.8 1649 Z M1009.93 1590.5 L1010.67 1590.5 L1025.71 1648.5 L1024.97 1648.5 Z M1017.31 1590.5 L1018.42 1590.5 L1032.91 1648.5 L1031.8 1648.5 Z M1025.27 1590.5 L1026.4 1590.5 L1040.37 1648.5 L1039.24 1648.5 Z M1033.67 1590.5 L1034.56 1590.5 L1048.84 1648.5 L1047.94 1648.5 Z M1042.55 1590.5 L1043.48 1590.5 L1057.54 1648.5 L1056.61 1648.5 Z M1051.03 1590.5 L1051.93 1590.5 L1067.32 1648.5 L1066.42 1648.5 Z M1055 1590 L1058.31 1590 L1073.44 1649 L1070.13 1649 Z M1061.37 1590 L1064.95 1590 L1080.68 1649 L1077.1 1649 Z M1067.43 1590 L1071.11 1590 L1085.85 1649 L1082.16 1649 Z M1074.6 1590 L1078.04 1590 L1094.07 1649 L1090.63 1649 Z M1081.44 1590 L1084.42 1590 L1100.12 1649 L1097.14 1649 Z M1088.21 1590 L1092.01 1590 L1108.57 1649 L1104.77 1649 Z M1094.22 1590 L1097.72 1590 L1114.69 1649 L1111.19 1649 Z M1062.6 1590.5 L1063.35 1590.5 L1078.99 1648.5 L1078.24 1648.5 Z M1071.22 1590.5 L1072.15 1590.5 L1087.7 1648.5 L1086.78 1648.5 Z M1077.82 1590.5 L1078.7 1590.5 L1094.07 1648.5 L1093.18 1648.5 Z M1084.83 1590.5 L1085.77 1590.5 L1099.76 1648.5 L1098.81 1648.5 Z M1092.46 1590.5 L1093.35 1590.5 L1107.38 1648.5 L1106.49 1648.5 Z M1101.15 1590.5 L1102.12 1590.5 L1118.42 1648.5 L1117.44 1648.5 Z M1101 1590 L1104.85 1590 L1119.19 1649 L1115.34 1649 Z M1108.25 1590 L1112.14 1590 L1128.87 1649 L1124.98 1649 Z M1116.03 1590 L1119.75 1590 L1136.18 1649 L1132.46 1649 Z M1123.82 1590 L1127.68 1590 L1143.97 1649 L1140.11 1649 Z M1131.49 1590 L1135.3 1590 L1150.92 1649 L1147.1 1649 Z M1138.79 1590 L1142.77 1590 L1159.26 1649 L1155.27 1649 Z M1109.83 1590.5 L1110.94 1590.5 L1126.25 1648.5 L1125.15 1648.5 Z M1116.39 1590.5 L1117.54 1590.5 L1132.32 1648.5 L1131.17 1648.5 Z M1124.72 1590.5 L1125.47 1590.5 L1142.13 1648.5 L1141.38 1648.5 Z M1133.15 1590.5 L1133.93 1590.5 L1149.18 1648.5 L1148.4 1648.5 Z M1140 1590.5 L1140.94 1590.5 L1155.42 1648.5 L1154.48 1648.5 Z M1146.76 1590.5 L1147.51 1590.5 L1162.15 1648.5 L1161.4 1648.5 Z" fill="#fff"/>
<path d="" fill="none" stroke="#000" stroke-width="2.6"/>
<path d="M880.4 1460.5 L897.5 1462.5 L891.5 1488 L874.4 1488 Z M928.52 1460.5 L947.9 1462.5 L941.9 1488 L922.52 1488 Z M980.56 1460.5 L1000.7 1462.5 L994.7 1488 L974.56 1488 Z M1033.56 1460.5 L1053.7 1462.5 L1047.7 1488 L1027.56 1488 Z M1082.92 1460.5 L1100.4 1462.5 L1094.4 1488 L1076.92 1488 Z M1128.4 1460.5 L1145.5 1462.5 L1139.5 1488 L1122.4 1488 Z M861.5 1650.5 L884.9 1650.5 L890.9 1673.5 L867.5 1676.5 Z M907.1 1650.5 L933.62 1650.5 L939.62 1673.5 L913.1 1676.5 Z M958.3 1650.5 L985.86 1650.5 L991.86 1673.5 L964.3 1676.5 Z M1011.3 1650.5 L1038.86 1650.5 L1044.86 1673.5 L1017.3 1676.5 Z M1063.6 1650.5 L1087.52 1650.5 L1093.52 1673.5 L1069.6 1676.5 Z M1109.5 1650.5 L1132.9 1650.5 L1138.9 1673.5 L1115.5 1676.5 Z" fill="#000" stroke="#000" stroke-width="2" stroke-linejoin="round"/>
<path d="M883.4 1464.5 L885.81 1464.5 L881.01 1484.5 L878.6 1484.5 Z M888.23 1464.5 L891.12 1464.5 L886.32 1484.5 L883.43 1484.5 Z M893.7 1464.5 L896.46 1464.5 L891.66 1484.5 L888.9 1484.5 Z M931.52 1464.5 L933.96 1464.5 L929.16 1484.5 L926.72 1484.5 Z M936.49 1464.5 L939.18 1464.5 L934.38 1484.5 L931.69 1484.5 Z M941.66 1464.5 L944.43 1464.5 L939.63 1484.5 L936.86 1484.5 Z M983.56 1464.5 L986.3 1464.5 L981.5 1484.5 L978.76 1484.5 Z M989.09 1464.5 L991.09 1464.5 L986.29 1484.5 L984.29 1484.5 Z M994.6 1464.5 L996.64 1464.5 L991.84 1484.5 L989.8 1484.5 Z M1036.56 1464.5 L1039.34 1464.5 L1034.54 1484.5 L1031.76 1484.5 Z M1041.62 1464.5 L1043.78 1464.5 L1038.98 1484.5 L1036.82 1484.5 Z M1047.36 1464.5 L1049.97 1464.5 L1045.17 1484.5 L1042.56 1484.5 Z M1085.92 1464.5 L1088.03 1464.5 L1083.23 1484.5 L1081.12 1484.5 Z M1090.56 1464.5 L1093.11 1464.5 L1088.31 1484.5 L1085.76 1484.5 Z M1095.36 1464.5 L1097.59 1464.5 L1092.79 1484.5 L1090.56 1484.5 Z M1131.4 1464.5 L1133.46 1464.5 L1128.66 1484.5 L1126.6 1484.5 Z M1137.04 1464.5 L1139.36 1464.5 L1134.56 1484.5 L1132.24 1484.5 Z M1141.67 1464.5 L1143.8 1464.5 L1139 1484.5 L1136.87 1484.5 Z M864.5 1654.5 L866.5 1654.5 L870.92 1671.5 L868.92 1671.5 Z M870.46 1654.5 L873.2 1654.5 L877.62 1671.5 L874.88 1671.5 Z M876.62 1654.5 L879.18 1654.5 L883.6 1671.5 L881.04 1671.5 Z M882.32 1654.5 L885.09 1654.5 L889.51 1671.5 L886.74 1671.5 Z M910.1 1654.5 L912.32 1654.5 L916.74 1671.5 L914.52 1671.5 Z M914.98 1654.5 L917.26 1654.5 L921.68 1671.5 L919.4 1671.5 Z M921.09 1654.5 L923.76 1654.5 L928.18 1671.5 L925.51 1671.5 Z M926.03 1654.5 L928.55 1654.5 L932.97 1671.5 L930.45 1671.5 Z M931.66 1654.5 L933.58 1654.5 L938 1671.5 L936.08 1671.5 Z M961.3 1654.5 L964.1 1654.5 L968.52 1671.5 L965.72 1671.5 Z M967.49 1654.5 L969.4 1654.5 L973.82 1671.5 L971.91 1671.5 Z M972.37 1654.5 L974.84 1654.5 L979.26 1671.5 L976.79 1671.5 Z M977.59 1654.5 L980.17 1654.5 L984.59 1671.5 L982.01 1671.5 Z M982.52 1654.5 L984.37 1654.5 L988.79 1671.5 L986.94 1671.5 Z M1014.3 1654.5 L1016.16 1654.5 L1020.58 1671.5 L1018.72 1671.5 Z M1020.22 1654.5 L1022.71 1654.5 L1027.13 1671.5 L1024.64 1671.5 Z M1025.97 1654.5 L1028.03 1654.5 L1032.45 1671.5 L1030.39 1671.5 Z M1030.92 1654.5 L1033.18 1654.5 L1037.6 1671.5 L1035.34 1671.5 Z M1036.31 1654.5 L1038.11 1654.5 L1042.53 1671.5 L1040.73 1671.5 Z M1066.6 1654.5 L1068.65 1654.5 L1073.07 1671.5 L1071.02 1671.5 Z M1071.89 1654.5 L1073.91 1654.5 L1078.33 1671.5 L1076.31 1671.5 Z M1076.99 1654.5 L1079.35 1654.5 L1083.77 1671.5 L1081.41 1671.5 Z M1082.83 1654.5 L1085.32 1654.5 L1089.74 1671.5 L1087.25 1671.5 Z M1112.5 1654.5 L1114.33 1654.5 L1118.75 1671.5 L1116.92 1671.5 Z M1117.33 1654.5 L1119.56 1654.5 L1123.98 1671.5 L1121.75 1671.5 Z M1123.18 1654.5 L1125.47 1654.5 L1129.89 1671.5 L1127.6 1671.5 Z M1128.54 1654.5 L1130.78 1654.5 L1135.2 1671.5 L1132.96 1671.5 Z" fill="#fff"/>
<path d="M898.5 1463.5 L901.5 1461.5 L906.5 1485.5 L892.5 1485.5 Z M948.9 1463.5 L952.5 1461.5 L957.5 1485.5 L942.9 1485.5 Z M1001.7 1463.5 L1005.5 1461.5 L1010.5 1485.5 L995.7 1485.5 Z M1054.7 1463.5 L1058.5 1461.5 L1063.5 1485.5 L1048.7 1485.5 Z M1101.4 1463.5 L1104.5 1461.5 L1109.5 1485.5 L1095.4 1485.5 Z M1146.5 1463.5 L1149.5 1461.5 L1154.5 1485.5 L1140.5 1485.5 Z M893 1673.5 L901 1673.5 L897 1657.5 Z M944 1673.5 L952 1673.5 L948 1657.5 Z M997 1673.5 L1005 1673.5 L1001 1657.5 Z M1050 1673.5 L1058 1673.5 L1054 1657.5 Z M1096 1673.5 L1104 1673.5 L1100 1657.5 Z M1141 1673.5 L1149 1673.5 L1145 1657.5 Z" fill="#fff"/>
<path d="M786.5 1459 L795.26 1457.67 L809.13 1459.1 L826.21 1456.65 L854 1459.01 L856.5 1464 L859 1459.5 L872.75 1456.48 L899 1458.06 L901.5 1464 L904 1459.5 L919.85 1456.68 L950 1458.05 L952.5 1464 L955 1459.5 L971.55 1456.98 L1003 1458.9 L1005.5 1464 L1008 1459.5 L1024.55 1456.37 L1056 1458.12 L1058.5 1464 L1061 1459.5 L1075.1 1456.54 L1102 1459.37 L1104.5 1464 L1107 1459.5 L1120.75 1456.81 L1147 1459.14 L1149.5 1464 L1152 1459.5 L1157.14 1457.84 L1169.92 1457.8 L1177.96 1456.62 L1189.35 1457.66 L1197.89 1456.31 L1206.64 1457.79 L1213.8 1458.5 L1213.8 1553.5 L786.5 1553.5 Z" fill="none" stroke="#000" stroke-width="3"/>
<path d="M786.5 1588.5 L1210.8 1588.5 L1210.8 1652 L1207.8 1652 L1207.8 1675 L1204.8 1673.5 L1184.68 1674.4 L1151 1675.8 L1149.5 1663.5 L1147 1671 L1132 1674.49 L1106 1675.8 L1104.5 1663.5 L1102 1671 L1086.6 1675.13 L1060 1675.8 L1058.5 1663.5 L1056 1671 L1037.8 1674.57 L1007 1675.8 L1005.5 1663.5 L1003 1671 L984.8 1674.56 L954 1675.8 L952.5 1663.5 L950 1671 L932.6 1674.56 L903 1675.8 L901.5 1663.5 L899 1671 L884 1675.29 L858 1675.8 L856.5 1663.5 L854 1671 L838.05 1674.46 L810.63 1675.8 L809.13 1670 L806.63 1673.5 L801.78 1674.99 L791 1675.8 L790 1652 L786.5 1652 Z" fill="none" stroke="#000" stroke-width="3"/>
<rect x="782.35" y="1553.05" width="434.8" height="35.8" fill="#fff" stroke="#000" stroke-width="2.5"/>
<line x1="923" y1="294" x2="1077.4" y2="294" stroke="#231f20" stroke-width="2.2"/>
<line x1="880" y1="336.8" x2="880" y2="354.4" stroke="#231f20" stroke-width="1.5"/>
<line x1="1405" y1="336.2" x2="1405" y2="1659.8" stroke="#231f20" stroke-width="2.2"/>
<line x1="595" y1="738.2" x2="595" y2="957.5" stroke="#231f20" stroke-width="2.2"/>
<line x1="674.2" y1="1097.5" x2="674.2" y2="1316.2" stroke="#231f20" stroke-width="2.2"/>
<line x1="751.3" y1="1457.5" x2="751.3" y2="1676.2" stroke="#231f20" stroke-width="2.2"/>
<line x1="637.5" y1="990.5" x2="1362" y2="990.5" stroke="#231f20" stroke-width="2.2"/>
<line x1="710.2" y1="1351.6" x2="1297" y2="1351.6" stroke="#231f20" stroke-width="2.2"/>
<line x1="782.4" y1="1705.7" x2="1220" y2="1705.7" stroke="#231f20" stroke-width="2.2"/>
<g transform="translate(0,272.8)"><ellipse cx="919.5" cy="-21.3" rx="16.9" ry="19.15" fill="none" stroke="#2b2928" stroke-width="4.4"/><line x1="903.9" y1="0.3" x2="935.1" y2="-42.9" stroke="#2b2928" stroke-width="4.3"/><text x="945.22 981.87 1017.12 1051.2" y="0">25cm</text></g>
<g transform="translate(0,1052.3)"><ellipse cx="655.9" cy="-21.3" rx="16.9" ry="19.15" fill="none" stroke="#2b2928" stroke-width="4.4"/><line x1="640.3" y1="0.3" x2="671.5" y2="-42.9" stroke="#2b2928" stroke-width="4.3"/><path d="M701.9 0 V-40.4 L687.9 -32.3 L689.8 -29.2 L697.8 -34.5 V0 Z" fill="#2b2928"/><text x="718.12 754.82 789.72 823.9" y="0">00cm</text></g>
<g transform="translate(0,1413.5)"><ellipse cx="746.9" cy="-21.3" rx="16.9" ry="19.15" fill="none" stroke="#2b2928" stroke-width="4.4"/><line x1="731.3" y1="0.3" x2="762.5" y2="-42.9" stroke="#2b2928" stroke-width="4.3"/><text x="772.52 808.92 844.12 878.4" y="0">80cm</text></g>
<g transform="translate(0,1767.7)"><ellipse cx="920.9" cy="-21.3" rx="16.9" ry="19.15" fill="none" stroke="#2b2928" stroke-width="4.4"/><line x1="905.3" y1="0.3" x2="936.5" y2="-42.9" stroke="#2b2928" stroke-width="4.3"/><text x="946.61 982.82 1018.52 1052.3" y="0">60cm</text></g>
<g transform="translate(859.8,0) rotate(-90)"><circle cx="-388.3" cy="-3.3" r="3.4" fill="#2b2928"/><text x="-431.18 -377.53 -341.28 -307.9" y="0">25cm</text></g>
<g transform="translate(575.2,0) rotate(-90)"><text x="-924.51 -888.98 -853.08 -819.2" y="0">30cm</text></g>
<g transform="translate(654.7,0) rotate(-90)"><text x="-1284.51 -1248.98 -1213.08 -1179.2" y="0">30cm</text></g>
<g transform="translate(731.7,0) rotate(-90)"><text x="-1644.01 -1608.48 -1572.58 -1538.7" y="0">30cm</text></g>
<g transform="translate(1424,0) rotate(90)"><path d="M936.2 0 V-40.4 L922.2 -32.3 L924.1 -29.2 L932.1 -34.5 V0 Z" fill="#2b2928"/><text x="952.91 988.92 1039.67 1074.27 1110.62 1147.32 1182.52 1216.4" y="0">40/500cm</text></g>
</svg></body></html>
